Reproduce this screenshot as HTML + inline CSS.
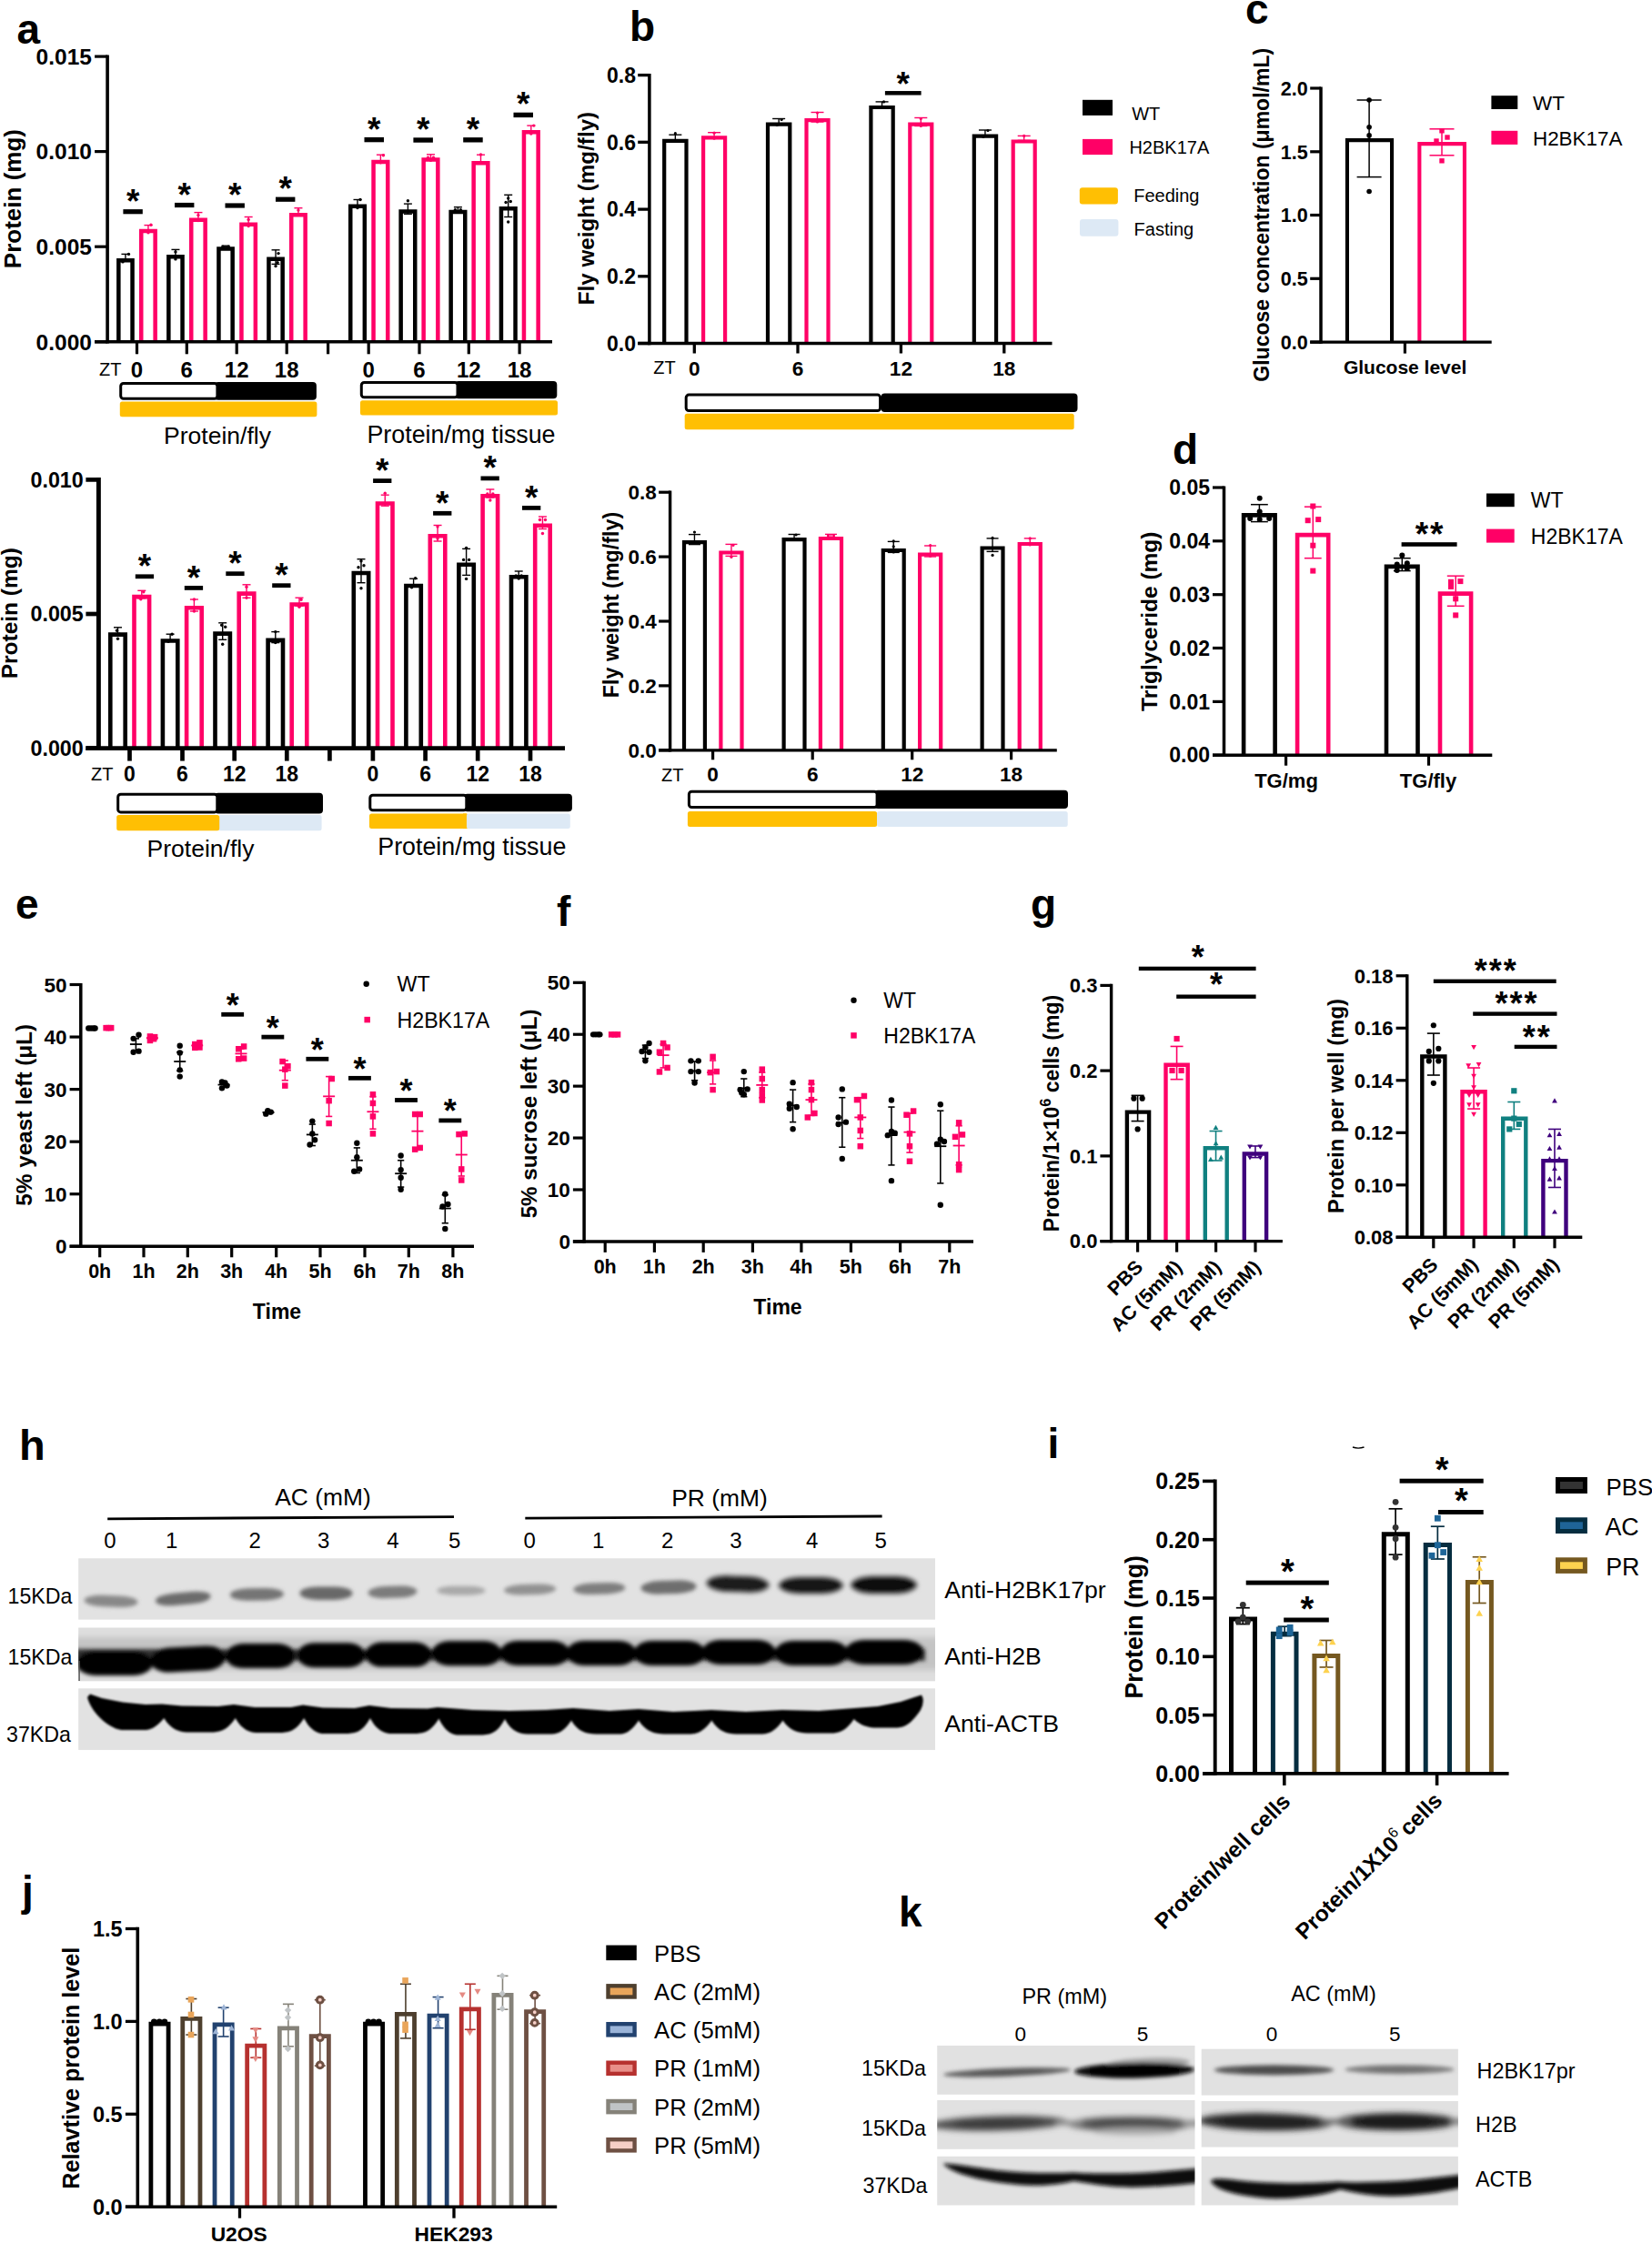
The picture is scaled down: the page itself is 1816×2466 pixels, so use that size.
<!DOCTYPE html>
<html><head><meta charset="utf-8"><title>Figure</title>
<style>html,body{margin:0;padding:0;background:#fff}svg{display:block}text{font-family:'Liberation Sans', sans-serif}</style>
</head><body>
<svg width="1816" height="2466" viewBox="0 0 1816 2466">
<defs>
<filter id="b1" x="-20%" y="-50%" width="140%" height="200%"><feGaussianBlur stdDeviation="1.2"/></filter>
<filter id="b2" x="-20%" y="-50%" width="140%" height="200%"><feGaussianBlur stdDeviation="2.2"/></filter>
<filter id="b3" x="-20%" y="-50%" width="140%" height="200%"><feGaussianBlur stdDeviation="3.2"/></filter>
</defs>
<rect width="1816" height="2466" fill="#fff"/>
<text x="18.5" y="48" font-size="46" font-weight="bold" text-anchor="start" fill="#000" >a</text>
<text x="100.9" y="70.87" font-size="24.5" font-weight="bold" text-anchor="end" fill="#000" >0.015</text>
<text x="100.9" y="175.37" font-size="24.5" font-weight="bold" text-anchor="end" fill="#000" >0.010</text>
<text x="100.9" y="279.97" font-size="24.5" font-weight="bold" text-anchor="end" fill="#000" >0.005</text>
<text x="100.9" y="384.57" font-size="24.5" font-weight="bold" text-anchor="end" fill="#000" >0.000</text>
<text x="23.4" y="218.6" font-size="26" font-weight="bold" text-anchor="middle" fill="#000" transform="rotate(-90 23.4 218.6)" >Protein (mg)</text>
<path d="M130.35,375.8 L130.35,286.15 L145.55,286.15 L145.55,375.8" fill="#fff" stroke="#000" stroke-width="4.5" stroke-linejoin="miter"/>
<line x1="137.95" y1="279.4" x2="137.95" y2="285.9" stroke="#000" stroke-width="1.4" stroke-linecap="butt"/>
<line x1="133.45" y1="279.4" x2="142.45" y2="279.4" stroke="#000" stroke-width="1.4" stroke-linecap="butt"/>
<line x1="133.45" y1="285.9" x2="142.45" y2="285.9" stroke="#000" stroke-width="1.4" stroke-linecap="butt"/>
<circle cx="141.45" cy="279.4" r="1.7" fill="#000"/>
<circle cx="134.95" cy="287.9" r="1.7" fill="#000"/>
<path d="M185.35,375.8 L185.35,282.15 L200.55,282.15 L200.55,375.8" fill="#fff" stroke="#000" stroke-width="4.5" stroke-linejoin="miter"/>
<line x1="192.95" y1="274.4" x2="192.95" y2="282.9" stroke="#000" stroke-width="1.4" stroke-linecap="butt"/>
<line x1="188.45" y1="274.4" x2="197.45" y2="274.4" stroke="#000" stroke-width="1.4" stroke-linecap="butt"/>
<line x1="188.45" y1="282.9" x2="197.45" y2="282.9" stroke="#000" stroke-width="1.4" stroke-linecap="butt"/>
<circle cx="192.95" cy="276.9" r="1.7" fill="#000"/>
<circle cx="192.95" cy="284.9" r="1.7" fill="#000"/>
<path d="M240.45,375.8 L240.45,273.45 L255.65,273.45 L255.65,375.8" fill="#fff" stroke="#000" stroke-width="4.5" stroke-linejoin="miter"/>
<line x1="248.05" y1="270.2" x2="248.05" y2="272.2" stroke="#000" stroke-width="1.4" stroke-linecap="butt"/>
<line x1="243.55" y1="270.2" x2="252.55" y2="270.2" stroke="#000" stroke-width="1.4" stroke-linecap="butt"/>
<line x1="243.55" y1="272.2" x2="252.55" y2="272.2" stroke="#000" stroke-width="1.4" stroke-linecap="butt"/>
<circle cx="245.05" cy="271.2" r="1.7" fill="#000"/>
<circle cx="251.05" cy="271.2" r="1.7" fill="#000"/>
<path d="M295.45,375.8 L295.45,284.85 L310.65,284.85 L310.65,375.8" fill="#fff" stroke="#000" stroke-width="4.5" stroke-linejoin="miter"/>
<line x1="303.05" y1="274.8" x2="303.05" y2="290.4" stroke="#000" stroke-width="1.4" stroke-linecap="butt"/>
<line x1="298.55" y1="274.8" x2="307.55" y2="274.8" stroke="#000" stroke-width="1.4" stroke-linecap="butt"/>
<line x1="298.55" y1="290.4" x2="307.55" y2="290.4" stroke="#000" stroke-width="1.4" stroke-linecap="butt"/>
<circle cx="306.05" cy="278.6" r="1.7" fill="#000"/>
<circle cx="300.05" cy="284.6" r="1.7" fill="#000"/>
<circle cx="305.05" cy="288.6" r="1.7" fill="#000"/>
<circle cx="303.05" cy="292.6" r="1.7" fill="#000"/>
<path d="M155.25,375.8 L155.25,254.05 L170.65,254.05 L170.65,375.8" fill="#fff" stroke="#FF0066" stroke-width="4.5" stroke-linejoin="miter"/>
<line x1="162.95" y1="247.6" x2="162.95" y2="254.8" stroke="#FF0066" stroke-width="1.4" stroke-linecap="butt"/>
<line x1="158.45" y1="247.6" x2="167.45" y2="247.6" stroke="#FF0066" stroke-width="1.4" stroke-linecap="butt"/>
<line x1="158.45" y1="254.8" x2="167.45" y2="254.8" stroke="#FF0066" stroke-width="1.4" stroke-linecap="butt"/>
<circle cx="165.95" cy="247.3" r="1.7" fill="#FF0066"/>
<circle cx="162.95" cy="255.8" r="1.7" fill="#FF0066"/>
<path d="M210.25,375.8 L210.25,241.85 L225.65,241.85 L225.65,375.8" fill="#fff" stroke="#FF0066" stroke-width="4.5" stroke-linejoin="miter"/>
<line x1="217.95" y1="233.6" x2="217.95" y2="242.6" stroke="#FF0066" stroke-width="1.4" stroke-linecap="butt"/>
<line x1="213.45" y1="233.6" x2="222.45" y2="233.6" stroke="#FF0066" stroke-width="1.4" stroke-linecap="butt"/>
<line x1="213.45" y1="242.6" x2="222.45" y2="242.6" stroke="#FF0066" stroke-width="1.4" stroke-linecap="butt"/>
<circle cx="217.95" cy="236.6" r="1.7" fill="#FF0066"/>
<circle cx="217.95" cy="242.6" r="1.7" fill="#FF0066"/>
<path d="M265.45,375.8 L265.45,246.75 L280.85,246.75 L280.85,375.8" fill="#fff" stroke="#FF0066" stroke-width="4.5" stroke-linejoin="miter"/>
<line x1="273.15" y1="238.5" x2="273.15" y2="247.5" stroke="#FF0066" stroke-width="1.4" stroke-linecap="butt"/>
<line x1="268.65" y1="238.5" x2="277.65" y2="238.5" stroke="#FF0066" stroke-width="1.4" stroke-linecap="butt"/>
<line x1="268.65" y1="247.5" x2="277.65" y2="247.5" stroke="#FF0066" stroke-width="1.4" stroke-linecap="butt"/>
<circle cx="273.15" cy="241.5" r="1.7" fill="#FF0066"/>
<circle cx="273.15" cy="248.5" r="1.7" fill="#FF0066"/>
<path d="M320.25,375.8 L320.25,236.35 L335.65,236.35 L335.65,375.8" fill="#fff" stroke="#FF0066" stroke-width="4.5" stroke-linejoin="miter"/>
<line x1="327.95" y1="228.7" x2="327.95" y2="237.1" stroke="#FF0066" stroke-width="1.4" stroke-linecap="butt"/>
<line x1="323.45" y1="228.7" x2="332.45" y2="228.7" stroke="#FF0066" stroke-width="1.4" stroke-linecap="butt"/>
<line x1="323.45" y1="237.1" x2="332.45" y2="237.1" stroke="#FF0066" stroke-width="1.4" stroke-linecap="butt"/>
<circle cx="327.95" cy="231.1" r="1.7" fill="#FF0066"/>
<rect x="135.4" y="230.1" width="21.4" height="5.2" fill="#000" />
<text x="146.1" y="233.81" font-size="37" font-weight="bold" text-anchor="middle" fill="#000" >*</text>
<rect x="192" y="222.9" width="21.4" height="5.2" fill="#000" />
<text x="202.7" y="226.61" font-size="37" font-weight="bold" text-anchor="middle" fill="#000" >*</text>
<rect x="247.5" y="223.4" width="21.4" height="5.2" fill="#000" />
<text x="258.2" y="227.11" font-size="37" font-weight="bold" text-anchor="middle" fill="#000" >*</text>
<rect x="303" y="216.6" width="21.4" height="5.2" fill="#000" />
<text x="313.7" y="220.31" font-size="37" font-weight="bold" text-anchor="middle" fill="#000" >*</text>
<path d="M385.25,375.8 L385.25,226.75 L400.85,226.75 L400.85,375.8" fill="#fff" stroke="#000" stroke-width="4.5" stroke-linejoin="miter"/>
<line x1="393" y1="219.5" x2="393" y2="226.5" stroke="#000" stroke-width="1.4" stroke-linecap="butt"/>
<line x1="388.5" y1="219.5" x2="397.5" y2="219.5" stroke="#000" stroke-width="1.4" stroke-linecap="butt"/>
<line x1="388.5" y1="226.5" x2="397.5" y2="226.5" stroke="#000" stroke-width="1.4" stroke-linecap="butt"/>
<circle cx="396" cy="219.5" r="1.7" fill="#000"/>
<circle cx="393" cy="228.5" r="1.7" fill="#000"/>
<path d="M440.65,375.8 L440.65,232.55 L456.25,232.55 L456.25,375.8" fill="#fff" stroke="#000" stroke-width="4.5" stroke-linejoin="miter"/>
<line x1="448.4" y1="224.1" x2="448.4" y2="235.3" stroke="#000" stroke-width="1.4" stroke-linecap="butt"/>
<line x1="443.9" y1="224.1" x2="452.9" y2="224.1" stroke="#000" stroke-width="1.4" stroke-linecap="butt"/>
<line x1="443.9" y1="235.3" x2="452.9" y2="235.3" stroke="#000" stroke-width="1.4" stroke-linecap="butt"/>
<circle cx="448.4" cy="220.8" r="1.7" fill="#000"/>
<path d="M495.65,375.8 L495.65,232.95 L511.25,232.95 L511.25,375.8" fill="#fff" stroke="#000" stroke-width="4.5" stroke-linejoin="miter"/>
<line x1="503.4" y1="227.7" x2="503.4" y2="231.7" stroke="#000" stroke-width="1.4" stroke-linecap="butt"/>
<line x1="498.9" y1="227.7" x2="507.9" y2="227.7" stroke="#000" stroke-width="1.4" stroke-linecap="butt"/>
<line x1="498.9" y1="231.7" x2="507.9" y2="231.7" stroke="#000" stroke-width="1.4" stroke-linecap="butt"/>
<circle cx="500.4" cy="230.7" r="1.7" fill="#000"/>
<circle cx="506.4" cy="230.7" r="1.7" fill="#000"/>
<path d="M550.95,375.8 L550.95,229.25 L566.55,229.25 L566.55,375.8" fill="#fff" stroke="#000" stroke-width="4.5" stroke-linejoin="miter"/>
<line x1="558.7" y1="214.3" x2="558.7" y2="238.5" stroke="#000" stroke-width="1.4" stroke-linecap="butt"/>
<line x1="554.2" y1="214.3" x2="563.2" y2="214.3" stroke="#000" stroke-width="1.4" stroke-linecap="butt"/>
<line x1="554.2" y1="238.5" x2="563.2" y2="238.5" stroke="#000" stroke-width="1.4" stroke-linecap="butt"/>
<circle cx="558.7" cy="218" r="1.7" fill="#000"/>
<circle cx="556.1" cy="222.5" r="1.7" fill="#000"/>
<circle cx="561.3" cy="221.5" r="1.7" fill="#000"/>
<circle cx="558.7" cy="244" r="1.7" fill="#000"/>
<path d="M410.55,375.8 L410.55,177.95 L426.25,177.95 L426.25,375.8" fill="#fff" stroke="#FF0066" stroke-width="4.5" stroke-linejoin="miter"/>
<line x1="418.4" y1="170.2" x2="418.4" y2="178.7" stroke="#FF0066" stroke-width="1.4" stroke-linecap="butt"/>
<line x1="413.9" y1="170.2" x2="422.9" y2="170.2" stroke="#FF0066" stroke-width="1.4" stroke-linecap="butt"/>
<line x1="413.9" y1="178.7" x2="422.9" y2="178.7" stroke="#FF0066" stroke-width="1.4" stroke-linecap="butt"/>
<circle cx="421.4" cy="170.7" r="1.7" fill="#FF0066"/>
<circle cx="418.4" cy="178.7" r="1.7" fill="#FF0066"/>
<path d="M465.65,375.8 L465.65,175.55 L481.35,175.55 L481.35,375.8" fill="#fff" stroke="#FF0066" stroke-width="4.5" stroke-linejoin="miter"/>
<line x1="473.5" y1="169.8" x2="473.5" y2="175.3" stroke="#FF0066" stroke-width="1.4" stroke-linecap="butt"/>
<line x1="469" y1="169.8" x2="478" y2="169.8" stroke="#FF0066" stroke-width="1.4" stroke-linecap="butt"/>
<line x1="469" y1="175.3" x2="478" y2="175.3" stroke="#FF0066" stroke-width="1.4" stroke-linecap="butt"/>
<circle cx="470.5" cy="173.3" r="1.7" fill="#FF0066"/>
<circle cx="476.5" cy="173.3" r="1.7" fill="#FF0066"/>
<circle cx="473.5" cy="176.3" r="1.7" fill="#FF0066"/>
<path d="M520.65,375.8 L520.65,179.25 L536.35,179.25 L536.35,375.8" fill="#fff" stroke="#FF0066" stroke-width="4.5" stroke-linejoin="miter"/>
<line x1="528.5" y1="170.2" x2="528.5" y2="179" stroke="#FF0066" stroke-width="1.4" stroke-linecap="butt"/>
<line x1="524" y1="170.2" x2="533" y2="170.2" stroke="#FF0066" stroke-width="1.4" stroke-linecap="butt"/>
<line x1="524" y1="179" x2="533" y2="179" stroke="#FF0066" stroke-width="1.4" stroke-linecap="butt"/>
<circle cx="528.5" cy="170" r="1.7" fill="#FF0066"/>
<path d="M575.95,375.8 L575.95,145.35 L591.65,145.35 L591.65,375.8" fill="#fff" stroke="#FF0066" stroke-width="4.5" stroke-linejoin="miter"/>
<line x1="583.8" y1="138.1" x2="583.8" y2="146.1" stroke="#FF0066" stroke-width="1.4" stroke-linecap="butt"/>
<line x1="579.3" y1="138.1" x2="588.3" y2="138.1" stroke="#FF0066" stroke-width="1.4" stroke-linecap="butt"/>
<line x1="579.3" y1="146.1" x2="588.3" y2="146.1" stroke="#FF0066" stroke-width="1.4" stroke-linecap="butt"/>
<circle cx="586.8" cy="138.1" r="1.7" fill="#FF0066"/>
<circle cx="583.8" cy="147.1" r="1.7" fill="#FF0066"/>
<rect x="400.5" y="150.9" width="21.5" height="5.4" fill="#000" />
<text x="411.25" y="154.61" font-size="37" font-weight="bold" text-anchor="middle" fill="#000" >*</text>
<rect x="454.4" y="151.3" width="21.5" height="5.4" fill="#000" />
<text x="465.15" y="155.01" font-size="37" font-weight="bold" text-anchor="middle" fill="#000" >*</text>
<rect x="509.2" y="151.1" width="21.5" height="5.4" fill="#000" />
<text x="519.95" y="154.81" font-size="37" font-weight="bold" text-anchor="middle" fill="#000" >*</text>
<rect x="564.5" y="123.7" width="21.5" height="5.4" fill="#000" />
<text x="575.25" y="127.41" font-size="37" font-weight="bold" text-anchor="middle" fill="#000" >*</text>
<text x="109" y="412.5" font-size="20" text-anchor="start" fill="#000" >ZT</text>
<text x="150.5" y="415" font-size="24" font-weight="bold" text-anchor="middle" fill="#000" >0</text>
<text x="205.3" y="415" font-size="24" font-weight="bold" text-anchor="middle" fill="#000" >6</text>
<text x="260.2" y="415" font-size="24" font-weight="bold" text-anchor="middle" fill="#000" >12</text>
<text x="315.2" y="415" font-size="24" font-weight="bold" text-anchor="middle" fill="#000" >18</text>
<text x="405.2" y="415" font-size="24" font-weight="bold" text-anchor="middle" fill="#000" >0</text>
<text x="461" y="415" font-size="24" font-weight="bold" text-anchor="middle" fill="#000" >6</text>
<text x="515.3" y="415" font-size="24" font-weight="bold" text-anchor="middle" fill="#000" >12</text>
<text x="571.1" y="415" font-size="24" font-weight="bold" text-anchor="middle" fill="#000" >18</text>
<rect x="235.9" y="420" width="112" height="19.7" fill="#000" rx="4" />
<rect x="132.7" y="421.5" width="106.2" height="16.7" fill="#fff" stroke="#000" stroke-width="3" rx="3" />
<rect x="131.8" y="441.5" width="216.6" height="16.7" fill="#FFBF03" rx="2.5" />
<rect x="500" y="418.9" width="112.3" height="19.3" fill="#000" rx="4" />
<rect x="397.3" y="420.4" width="105.7" height="16.3" fill="#fff" stroke="#000" stroke-width="3" rx="3" />
<rect x="396" y="440.2" width="217" height="16.4" fill="#FFBF03" rx="2.5" />
<text x="239" y="488.4" font-size="26.5" text-anchor="middle" fill="#000" >Protein/fly</text>
<text x="507" y="487" font-size="26.8" text-anchor="middle" fill="#000" >Protein/mg tissue</text>
<line x1="118.1" y1="60.5" x2="118.1" y2="377.6" stroke="#000" stroke-width="3.6"/>
<line x1="104.1" y1="62.1" x2="118.1" y2="62.1" stroke="#000" stroke-width="3.2"/>
<line x1="104.1" y1="166.6" x2="118.1" y2="166.6" stroke="#000" stroke-width="3.2"/>
<line x1="104.1" y1="271.2" x2="118.1" y2="271.2" stroke="#000" stroke-width="3.2"/>
<line x1="104.1" y1="375.8" x2="118.1" y2="375.8" stroke="#000" stroke-width="3.2"/>
<line x1="104.1" y1="375.8" x2="607" y2="375.8" stroke="#000" stroke-width="3.4"/>
<line x1="150.5" y1="375.8" x2="150.5" y2="389.3" stroke="#000" stroke-width="3.2"/>
<line x1="205.3" y1="375.8" x2="205.3" y2="389.3" stroke="#000" stroke-width="3.2"/>
<line x1="260.2" y1="375.8" x2="260.2" y2="389.3" stroke="#000" stroke-width="3.2"/>
<line x1="315.2" y1="375.8" x2="315.2" y2="389.3" stroke="#000" stroke-width="3.2"/>
<line x1="360.6" y1="375.8" x2="360.6" y2="389.3" stroke="#000" stroke-width="3.2"/>
<line x1="405.2" y1="375.8" x2="405.2" y2="389.3" stroke="#000" stroke-width="3.2"/>
<line x1="461" y1="375.8" x2="461" y2="389.3" stroke="#000" stroke-width="3.2"/>
<line x1="515.3" y1="375.8" x2="515.3" y2="389.3" stroke="#000" stroke-width="3.2"/>
<line x1="571.1" y1="375.8" x2="571.1" y2="389.3" stroke="#000" stroke-width="3.2"/>
<text x="91.8" y="535.74" font-size="23.3" font-weight="bold" text-anchor="end" fill="#000" >0.010</text>
<text x="91.8" y="683.34" font-size="23.3" font-weight="bold" text-anchor="end" fill="#000" >0.005</text>
<text x="91.8" y="830.94" font-size="23.3" font-weight="bold" text-anchor="end" fill="#000" >0.000</text>
<text x="18.9" y="674.2" font-size="24.5" font-weight="bold" text-anchor="middle" fill="#000" transform="rotate(-90 18.9 674.2)" >Protein (mg)</text>
<path d="M121.3,822.6 L121.3,697.6 L137.7,697.6 L137.7,822.6" fill="#fff" stroke="#000" stroke-width="4.6" stroke-linejoin="miter"/>
<line x1="129.5" y1="689.8" x2="129.5" y2="698.8" stroke="#000" stroke-width="1.4" stroke-linecap="butt"/>
<line x1="125" y1="689.8" x2="134" y2="689.8" stroke="#000" stroke-width="1.4" stroke-linecap="butt"/>
<line x1="125" y1="698.8" x2="134" y2="698.8" stroke="#000" stroke-width="1.4" stroke-linecap="butt"/>
<circle cx="128.5" cy="693.3" r="1.7" fill="#000"/>
<circle cx="131.5" cy="697.3" r="1.7" fill="#000"/>
<circle cx="129.5" cy="702.3" r="1.7" fill="#000"/>
<path d="M178.9,822.6 L178.9,704.5 L195.3,704.5 L195.3,822.6" fill="#fff" stroke="#000" stroke-width="4.6" stroke-linejoin="miter"/>
<line x1="187.1" y1="697.2" x2="187.1" y2="705.2" stroke="#000" stroke-width="1.4" stroke-linecap="butt"/>
<line x1="182.6" y1="697.2" x2="191.6" y2="697.2" stroke="#000" stroke-width="1.4" stroke-linecap="butt"/>
<line x1="182.6" y1="705.2" x2="191.6" y2="705.2" stroke="#000" stroke-width="1.4" stroke-linecap="butt"/>
<circle cx="189.1" cy="697.2" r="1.7" fill="#000"/>
<circle cx="185.1" cy="705.2" r="1.7" fill="#000"/>
<path d="M236.5,822.6 L236.5,696.6 L252.9,696.6 L252.9,822.6" fill="#fff" stroke="#000" stroke-width="4.6" stroke-linejoin="miter"/>
<line x1="244.7" y1="684.8" x2="244.7" y2="703.3" stroke="#000" stroke-width="1.4" stroke-linecap="butt"/>
<line x1="240.2" y1="684.8" x2="249.2" y2="684.8" stroke="#000" stroke-width="1.4" stroke-linecap="butt"/>
<line x1="240.2" y1="703.3" x2="249.2" y2="703.3" stroke="#000" stroke-width="1.4" stroke-linecap="butt"/>
<circle cx="243.7" cy="687.3" r="1.7" fill="#000"/>
<circle cx="247.7" cy="689.3" r="1.7" fill="#000"/>
<circle cx="244.7" cy="708.3" r="1.7" fill="#000"/>
<path d="M294.6,822.6 L294.6,703.9 L311,703.9 L311,822.6" fill="#fff" stroke="#000" stroke-width="4.6" stroke-linejoin="miter"/>
<line x1="302.8" y1="694.6" x2="302.8" y2="706.6" stroke="#000" stroke-width="1.4" stroke-linecap="butt"/>
<line x1="298.3" y1="694.6" x2="307.3" y2="694.6" stroke="#000" stroke-width="1.4" stroke-linecap="butt"/>
<line x1="298.3" y1="706.6" x2="307.3" y2="706.6" stroke="#000" stroke-width="1.4" stroke-linecap="butt"/>
<circle cx="302.8" cy="694.6" r="1.7" fill="#000"/>
<circle cx="302.8" cy="706.6" r="1.7" fill="#000"/>
<path d="M147.5,822.6 L147.5,656.1 L164.1,656.1 L164.1,822.6" fill="#fff" stroke="#FF0066" stroke-width="4.6" stroke-linejoin="miter"/>
<line x1="155.8" y1="649.3" x2="155.8" y2="657.8" stroke="#FF0066" stroke-width="1.4" stroke-linecap="butt"/>
<line x1="151.3" y1="649.3" x2="160.3" y2="649.3" stroke="#FF0066" stroke-width="1.4" stroke-linecap="butt"/>
<line x1="151.3" y1="657.8" x2="160.3" y2="657.8" stroke="#FF0066" stroke-width="1.4" stroke-linecap="butt"/>
<circle cx="157.8" cy="650.8" r="1.7" fill="#FF0066"/>
<circle cx="154.8" cy="658.8" r="1.7" fill="#FF0066"/>
<path d="M205.1,822.6 L205.1,668.3 L221.7,668.3 L221.7,822.6" fill="#fff" stroke="#FF0066" stroke-width="4.6" stroke-linejoin="miter"/>
<line x1="213.4" y1="659" x2="213.4" y2="672" stroke="#FF0066" stroke-width="1.4" stroke-linecap="butt"/>
<line x1="208.9" y1="659" x2="217.9" y2="659" stroke="#FF0066" stroke-width="1.4" stroke-linecap="butt"/>
<line x1="208.9" y1="672" x2="217.9" y2="672" stroke="#FF0066" stroke-width="1.4" stroke-linecap="butt"/>
<circle cx="213.4" cy="659" r="1.7" fill="#FF0066"/>
<circle cx="213.4" cy="672" r="1.7" fill="#FF0066"/>
<path d="M262.7,822.6 L262.7,652.6 L279.3,652.6 L279.3,822.6" fill="#fff" stroke="#FF0066" stroke-width="4.6" stroke-linejoin="miter"/>
<line x1="271" y1="642.8" x2="271" y2="657.3" stroke="#FF0066" stroke-width="1.4" stroke-linecap="butt"/>
<line x1="266.5" y1="642.8" x2="275.5" y2="642.8" stroke="#FF0066" stroke-width="1.4" stroke-linecap="butt"/>
<line x1="266.5" y1="657.3" x2="275.5" y2="657.3" stroke="#FF0066" stroke-width="1.4" stroke-linecap="butt"/>
<circle cx="271" cy="645.3" r="1.7" fill="#FF0066"/>
<circle cx="271" cy="657.3" r="1.7" fill="#FF0066"/>
<path d="M320.7,822.6 L320.7,664.5 L337.3,664.5 L337.3,822.6" fill="#fff" stroke="#FF0066" stroke-width="4.6" stroke-linejoin="miter"/>
<line x1="329" y1="657.2" x2="329" y2="666.2" stroke="#FF0066" stroke-width="1.4" stroke-linecap="butt"/>
<line x1="324.5" y1="657.2" x2="333.5" y2="657.2" stroke="#FF0066" stroke-width="1.4" stroke-linecap="butt"/>
<line x1="324.5" y1="666.2" x2="333.5" y2="666.2" stroke="#FF0066" stroke-width="1.4" stroke-linecap="butt"/>
<circle cx="331" cy="659.2" r="1.7" fill="#FF0066"/>
<circle cx="329" cy="667.2" r="1.7" fill="#FF0066"/>
<rect x="148.8" y="631.4" width="20.3" height="4.8" fill="#000" />
<text x="158.95" y="635.11" font-size="37" font-weight="bold" text-anchor="middle" fill="#000" >*</text>
<rect x="202.8" y="644" width="20.3" height="4.8" fill="#000" />
<text x="212.95" y="647.71" font-size="37" font-weight="bold" text-anchor="middle" fill="#000" >*</text>
<rect x="248.3" y="628.3" width="20.3" height="4.8" fill="#000" />
<text x="258.45" y="632.01" font-size="37" font-weight="bold" text-anchor="middle" fill="#000" >*</text>
<rect x="299.2" y="641.3" width="20.3" height="4.8" fill="#000" />
<text x="309.35" y="645.01" font-size="37" font-weight="bold" text-anchor="middle" fill="#000" >*</text>
<path d="M388.8,822.6 L388.8,630 L405.2,630 L405.2,822.6" fill="#fff" stroke="#000" stroke-width="4.6" stroke-linejoin="miter"/>
<line x1="397" y1="614.7" x2="397" y2="640.7" stroke="#000" stroke-width="1.4" stroke-linecap="butt"/>
<line x1="392.5" y1="614.7" x2="401.5" y2="614.7" stroke="#000" stroke-width="1.4" stroke-linecap="butt"/>
<line x1="392.5" y1="640.7" x2="401.5" y2="640.7" stroke="#000" stroke-width="1.4" stroke-linecap="butt"/>
<circle cx="397" cy="616.7" r="1.7" fill="#000"/>
<circle cx="400" cy="621.7" r="1.7" fill="#000"/>
<circle cx="394" cy="623.7" r="1.7" fill="#000"/>
<circle cx="397" cy="646.7" r="1.7" fill="#000"/>
<path d="M446.4,822.6 L446.4,644 L462.8,644 L462.8,822.6" fill="#fff" stroke="#000" stroke-width="4.6" stroke-linejoin="miter"/>
<line x1="454.6" y1="636.2" x2="454.6" y2="644.7" stroke="#000" stroke-width="1.4" stroke-linecap="butt"/>
<line x1="450.1" y1="636.2" x2="459.1" y2="636.2" stroke="#000" stroke-width="1.4" stroke-linecap="butt"/>
<line x1="450.1" y1="644.7" x2="459.1" y2="644.7" stroke="#000" stroke-width="1.4" stroke-linecap="butt"/>
<circle cx="456.6" cy="635.7" r="1.7" fill="#000"/>
<circle cx="452.6" cy="645.7" r="1.7" fill="#000"/>
<path d="M504.4,822.6 L504.4,620.7 L520.8,620.7 L520.8,822.6" fill="#fff" stroke="#000" stroke-width="4.6" stroke-linejoin="miter"/>
<line x1="512.6" y1="603.4" x2="512.6" y2="632.4" stroke="#000" stroke-width="1.4" stroke-linecap="butt"/>
<line x1="508.1" y1="603.4" x2="517.1" y2="603.4" stroke="#000" stroke-width="1.4" stroke-linecap="butt"/>
<line x1="508.1" y1="632.4" x2="517.1" y2="632.4" stroke="#000" stroke-width="1.4" stroke-linecap="butt"/>
<circle cx="512.6" cy="602.4" r="1.7" fill="#000"/>
<circle cx="509.6" cy="615.4" r="1.7" fill="#000"/>
<circle cx="515.6" cy="615.4" r="1.7" fill="#000"/>
<circle cx="512.6" cy="636.4" r="1.7" fill="#000"/>
<path d="M562,822.6 L562,634.3 L578.4,634.3 L578.4,822.6" fill="#fff" stroke="#000" stroke-width="4.6" stroke-linejoin="miter"/>
<line x1="570.2" y1="628" x2="570.2" y2="634" stroke="#000" stroke-width="1.4" stroke-linecap="butt"/>
<line x1="565.7" y1="628" x2="574.7" y2="628" stroke="#000" stroke-width="1.4" stroke-linecap="butt"/>
<line x1="565.7" y1="634" x2="574.7" y2="634" stroke="#000" stroke-width="1.4" stroke-linecap="butt"/>
<circle cx="567.2" cy="633" r="1.7" fill="#000"/>
<circle cx="573.2" cy="633" r="1.7" fill="#000"/>
<circle cx="570.2" cy="636" r="1.7" fill="#000"/>
<path d="M415,822.6 L415,553.5 L431.5,553.5 L431.5,822.6" fill="#fff" stroke="#FF0066" stroke-width="4.6" stroke-linejoin="miter"/>
<line x1="423.25" y1="544.2" x2="423.25" y2="556.2" stroke="#FF0066" stroke-width="1.4" stroke-linecap="butt"/>
<line x1="418.75" y1="544.2" x2="427.75" y2="544.2" stroke="#FF0066" stroke-width="1.4" stroke-linecap="butt"/>
<line x1="418.75" y1="556.2" x2="427.75" y2="556.2" stroke="#FF0066" stroke-width="1.4" stroke-linecap="butt"/>
<circle cx="423.25" cy="542.2" r="1.7" fill="#FF0066"/>
<path d="M472.8,822.6 L472.8,589.3 L489.3,589.3 L489.3,822.6" fill="#fff" stroke="#FF0066" stroke-width="4.6" stroke-linejoin="miter"/>
<line x1="481.05" y1="577.5" x2="481.05" y2="595" stroke="#FF0066" stroke-width="1.4" stroke-linecap="butt"/>
<line x1="476.55" y1="577.5" x2="485.55" y2="577.5" stroke="#FF0066" stroke-width="1.4" stroke-linecap="butt"/>
<line x1="476.55" y1="595" x2="485.55" y2="595" stroke="#FF0066" stroke-width="1.4" stroke-linecap="butt"/>
<circle cx="481.05" cy="579" r="1.7" fill="#FF0066"/>
<circle cx="481.05" cy="592" r="1.7" fill="#FF0066"/>
<path d="M530.6,822.6 L530.6,545.3 L547.1,545.3 L547.1,822.6" fill="#fff" stroke="#FF0066" stroke-width="4.6" stroke-linejoin="miter"/>
<line x1="538.85" y1="538" x2="538.85" y2="547" stroke="#FF0066" stroke-width="1.4" stroke-linecap="butt"/>
<line x1="534.35" y1="538" x2="543.35" y2="538" stroke="#FF0066" stroke-width="1.4" stroke-linecap="butt"/>
<line x1="534.35" y1="547" x2="543.35" y2="547" stroke="#FF0066" stroke-width="1.4" stroke-linecap="butt"/>
<circle cx="535.85" cy="543" r="1.7" fill="#FF0066"/>
<circle cx="541.85" cy="543" r="1.7" fill="#FF0066"/>
<circle cx="538.85" cy="550" r="1.7" fill="#FF0066"/>
<path d="M588.2,822.6 L588.2,577.8 L604.7,577.8 L604.7,822.6" fill="#fff" stroke="#FF0066" stroke-width="4.6" stroke-linejoin="miter"/>
<line x1="596.45" y1="568" x2="596.45" y2="581.5" stroke="#FF0066" stroke-width="1.4" stroke-linecap="butt"/>
<line x1="591.95" y1="568" x2="600.95" y2="568" stroke="#FF0066" stroke-width="1.4" stroke-linecap="butt"/>
<line x1="591.95" y1="581.5" x2="600.95" y2="581.5" stroke="#FF0066" stroke-width="1.4" stroke-linecap="butt"/>
<circle cx="593.45" cy="571.5" r="1.7" fill="#FF0066"/>
<circle cx="599.45" cy="571.5" r="1.7" fill="#FF0066"/>
<circle cx="596.45" cy="586.5" r="1.7" fill="#FF0066"/>
<rect x="410.1" y="526.2" width="20.3" height="4.8" fill="#000" />
<text x="420.25" y="529.91" font-size="37" font-weight="bold" text-anchor="middle" fill="#000" >*</text>
<rect x="476.1" y="561.9" width="20.3" height="4.8" fill="#000" />
<text x="486.25" y="565.61" font-size="37" font-weight="bold" text-anchor="middle" fill="#000" >*</text>
<rect x="528.5" y="523.5" width="20.3" height="4.8" fill="#000" />
<text x="538.65" y="527.21" font-size="37" font-weight="bold" text-anchor="middle" fill="#000" >*</text>
<rect x="574" y="556" width="20.3" height="4.8" fill="#000" />
<text x="584.15" y="559.71" font-size="37" font-weight="bold" text-anchor="middle" fill="#000" >*</text>
<text x="100" y="857.7" font-size="20" text-anchor="start" fill="#000" >ZT</text>
<text x="142.5" y="859" font-size="23" font-weight="bold" text-anchor="middle" fill="#000" >0</text>
<text x="200.5" y="859" font-size="23" font-weight="bold" text-anchor="middle" fill="#000" >6</text>
<text x="257.7" y="859" font-size="23" font-weight="bold" text-anchor="middle" fill="#000" >12</text>
<text x="315.3" y="859" font-size="23" font-weight="bold" text-anchor="middle" fill="#000" >18</text>
<text x="409.9" y="859" font-size="23" font-weight="bold" text-anchor="middle" fill="#000" >0</text>
<text x="467.6" y="859" font-size="23" font-weight="bold" text-anchor="middle" fill="#000" >6</text>
<text x="525.2" y="859" font-size="23" font-weight="bold" text-anchor="middle" fill="#000" >12</text>
<text x="583" y="859" font-size="23" font-weight="bold" text-anchor="middle" fill="#000" >18</text>
<rect x="235.8" y="871.7" width="119.2" height="22.7" fill="#000" rx="4" />
<rect x="129.7" y="873.2" width="109.1" height="19.7" fill="#fff" stroke="#000" stroke-width="3" rx="3" />
<rect x="239.9" y="896" width="113.7" height="17.2" fill="#DDE9F5" rx="2.5" />
<rect x="128.2" y="896" width="113" height="17.2" fill="#FFBF03" rx="2.5" />
<rect x="509.8" y="872.8" width="119.1" height="19.5" fill="#000" rx="4" />
<rect x="406.8" y="874.3" width="106" height="16.5" fill="#fff" stroke="#000" stroke-width="3" rx="3" />
<rect x="406" y="894.4" width="109" height="16.7" fill="#FFBF03" rx="2.5" />
<rect x="512.8" y="894.4" width="114" height="16.7" fill="#DDE9F5" rx="2.5" />
<rect x="509" y="894.4" width="3.8" height="16.7" fill="#FFBF03" />
<text x="220.5" y="941.5" font-size="26.5" text-anchor="middle" fill="#000" >Protein/fly</text>
<text x="518.8" y="940.4" font-size="26.8" text-anchor="middle" fill="#000" >Protein/mg tissue</text>
<text x="692" y="45" font-size="46" font-weight="bold" text-anchor="start" fill="#000" >b</text>
<line x1="108.4" y1="525.05" x2="108.4" y2="825.05" stroke="#000" stroke-width="4.9"/>
<line x1="94.4" y1="527.4" x2="108.4" y2="527.4" stroke="#000" stroke-width="4.7"/>
<line x1="94.4" y1="675" x2="108.4" y2="675" stroke="#000" stroke-width="4.7"/>
<line x1="94.4" y1="822.6" x2="108.4" y2="822.6" stroke="#000" stroke-width="4.7"/>
<line x1="94.4" y1="822.6" x2="621" y2="822.6" stroke="#000" stroke-width="4.9"/>
<line x1="142.5" y1="822.6" x2="142.5" y2="836.6" stroke="#000" stroke-width="4.7"/>
<line x1="200.5" y1="822.6" x2="200.5" y2="836.6" stroke="#000" stroke-width="4.7"/>
<line x1="257.7" y1="822.6" x2="257.7" y2="836.6" stroke="#000" stroke-width="4.7"/>
<line x1="315.3" y1="822.6" x2="315.3" y2="836.6" stroke="#000" stroke-width="4.7"/>
<line x1="362.4" y1="822.6" x2="362.4" y2="836.6" stroke="#000" stroke-width="4.7"/>
<line x1="409.9" y1="822.6" x2="409.9" y2="836.6" stroke="#000" stroke-width="4.7"/>
<line x1="467.6" y1="822.6" x2="467.6" y2="836.6" stroke="#000" stroke-width="4.7"/>
<line x1="525.2" y1="822.6" x2="525.2" y2="836.6" stroke="#000" stroke-width="4.7"/>
<line x1="583" y1="822.6" x2="583" y2="836.6" stroke="#000" stroke-width="4.7"/>
<text x="699" y="90.83" font-size="23" font-weight="bold" text-anchor="end" fill="#000" >0.8</text>
<text x="699" y="164.53" font-size="23" font-weight="bold" text-anchor="end" fill="#000" >0.6</text>
<text x="699" y="238.33" font-size="23" font-weight="bold" text-anchor="end" fill="#000" >0.4</text>
<text x="699" y="312.03" font-size="23" font-weight="bold" text-anchor="end" fill="#000" >0.2</text>
<text x="699" y="385.73" font-size="23" font-weight="bold" text-anchor="end" fill="#000" >0.0</text>
<text x="652.6" y="229" font-size="24.2" font-weight="bold" text-anchor="middle" fill="#000" transform="rotate(-90 652.6 229)" >Fly weight (mg/fly)</text>
<path d="M730.2,377.5 L730.2,154.8 L754.5,154.8 L754.5,377.5" fill="#fff" stroke="#000" stroke-width="4.2" stroke-linejoin="miter"/>
<line x1="742.35" y1="148.2" x2="742.35" y2="153.7" stroke="#000" stroke-width="1.4" stroke-linecap="butt"/>
<line x1="735.35" y1="148.2" x2="749.35" y2="148.2" stroke="#000" stroke-width="1.4" stroke-linecap="butt"/>
<line x1="735.35" y1="153.7" x2="749.35" y2="153.7" stroke="#000" stroke-width="1.4" stroke-linecap="butt"/>
<circle cx="742.35" cy="146.7" r="1.6" fill="#000"/>
<path d="M844,377.5 L844,136.6 L868.3,136.6 L868.3,377.5" fill="#fff" stroke="#000" stroke-width="4.2" stroke-linejoin="miter"/>
<line x1="856.15" y1="130.5" x2="856.15" y2="136.5" stroke="#000" stroke-width="1.4" stroke-linecap="butt"/>
<line x1="849.15" y1="130.5" x2="863.15" y2="130.5" stroke="#000" stroke-width="1.4" stroke-linecap="butt"/>
<line x1="849.15" y1="136.5" x2="863.15" y2="136.5" stroke="#000" stroke-width="1.4" stroke-linecap="butt"/>
<circle cx="859.15" cy="131.5" r="1.6" fill="#000"/>
<circle cx="854.15" cy="137.5" r="1.6" fill="#000"/>
<path d="M957.4,377.5 L957.4,118 L981.7,118 L981.7,377.5" fill="#fff" stroke="#000" stroke-width="4.2" stroke-linejoin="miter"/>
<line x1="969.55" y1="111.9" x2="969.55" y2="117.9" stroke="#000" stroke-width="1.4" stroke-linecap="butt"/>
<line x1="962.55" y1="111.9" x2="976.55" y2="111.9" stroke="#000" stroke-width="1.4" stroke-linecap="butt"/>
<line x1="962.55" y1="117.9" x2="976.55" y2="117.9" stroke="#000" stroke-width="1.4" stroke-linecap="butt"/>
<circle cx="971.55" cy="111.9" r="1.6" fill="#000"/>
<circle cx="967.55" cy="117.9" r="1.6" fill="#000"/>
<path d="M1070.8,377.5 L1070.8,149.6 L1095.1,149.6 L1095.1,377.5" fill="#fff" stroke="#000" stroke-width="4.2" stroke-linejoin="miter"/>
<line x1="1082.95" y1="143" x2="1082.95" y2="149.5" stroke="#000" stroke-width="1.4" stroke-linecap="butt"/>
<line x1="1075.95" y1="143" x2="1089.95" y2="143" stroke="#000" stroke-width="1.4" stroke-linecap="butt"/>
<line x1="1075.95" y1="149.5" x2="1089.95" y2="149.5" stroke="#000" stroke-width="1.4" stroke-linecap="butt"/>
<circle cx="1085.95" cy="143.5" r="1.6" fill="#000"/>
<circle cx="1080.95" cy="150.5" r="1.6" fill="#000"/>
<path d="M773.1,377.5 L773.1,151.3 L797.1,151.3 L797.1,377.5" fill="#fff" stroke="#FF0066" stroke-width="4.2" stroke-linejoin="miter"/>
<line x1="785.1" y1="145.7" x2="785.1" y2="152.2" stroke="#FF0066" stroke-width="1.4" stroke-linecap="butt"/>
<line x1="778.1" y1="145.7" x2="792.1" y2="145.7" stroke="#FF0066" stroke-width="1.4" stroke-linecap="butt"/>
<line x1="778.1" y1="152.2" x2="792.1" y2="152.2" stroke="#FF0066" stroke-width="1.4" stroke-linecap="butt"/>
<circle cx="785.1" cy="146.2" r="1.6" fill="#FF0066"/>
<circle cx="785.1" cy="152.2" r="1.6" fill="#FF0066"/>
<path d="M886.5,377.5 L886.5,132.1 L910.5,132.1 L910.5,377.5" fill="#fff" stroke="#FF0066" stroke-width="4.2" stroke-linejoin="miter"/>
<line x1="898.5" y1="123.5" x2="898.5" y2="134" stroke="#FF0066" stroke-width="1.4" stroke-linecap="butt"/>
<line x1="891.5" y1="123.5" x2="905.5" y2="123.5" stroke="#FF0066" stroke-width="1.4" stroke-linecap="butt"/>
<line x1="891.5" y1="134" x2="905.5" y2="134" stroke="#FF0066" stroke-width="1.4" stroke-linecap="butt"/>
<circle cx="898.5" cy="124" r="1.6" fill="#FF0066"/>
<circle cx="898.5" cy="134" r="1.6" fill="#FF0066"/>
<path d="M1000.3,377.5 L1000.3,136.6 L1024.3,136.6 L1024.3,377.5" fill="#fff" stroke="#FF0066" stroke-width="4.2" stroke-linejoin="miter"/>
<line x1="1012.3" y1="129.5" x2="1012.3" y2="138.5" stroke="#FF0066" stroke-width="1.4" stroke-linecap="butt"/>
<line x1="1005.3" y1="129.5" x2="1019.3" y2="129.5" stroke="#FF0066" stroke-width="1.4" stroke-linecap="butt"/>
<line x1="1005.3" y1="138.5" x2="1019.3" y2="138.5" stroke="#FF0066" stroke-width="1.4" stroke-linecap="butt"/>
<circle cx="1012.3" cy="130.5" r="1.6" fill="#FF0066"/>
<circle cx="1012.3" cy="138.5" r="1.6" fill="#FF0066"/>
<path d="M1113.7,377.5 L1113.7,155.5 L1137.7,155.5 L1137.7,377.5" fill="#fff" stroke="#FF0066" stroke-width="4.2" stroke-linejoin="miter"/>
<line x1="1125.7" y1="149.4" x2="1125.7" y2="154.4" stroke="#FF0066" stroke-width="1.4" stroke-linecap="butt"/>
<line x1="1118.7" y1="149.4" x2="1132.7" y2="149.4" stroke="#FF0066" stroke-width="1.4" stroke-linecap="butt"/>
<line x1="1118.7" y1="154.4" x2="1132.7" y2="154.4" stroke="#FF0066" stroke-width="1.4" stroke-linecap="butt"/>
<circle cx="1125.7" cy="149.4" r="1.6" fill="#FF0066"/>
<rect x="972.9" y="100.05" width="39.7" height="4.5" fill="#000" />
<text x="992.75" y="104.76" font-size="37" font-weight="bold" text-anchor="middle" fill="#000" >*</text>
<text x="718.3" y="410.8" font-size="20" text-anchor="start" fill="#000" >ZT</text>
<text x="763.3" y="412.6" font-size="22.6" font-weight="bold" text-anchor="middle" fill="#000" >0</text>
<text x="877" y="412.6" font-size="22.6" font-weight="bold" text-anchor="middle" fill="#000" >6</text>
<text x="990.4" y="412.6" font-size="22.6" font-weight="bold" text-anchor="middle" fill="#000" >12</text>
<text x="1103.8" y="412.6" font-size="22.6" font-weight="bold" text-anchor="middle" fill="#000" >18</text>
<rect x="754.2" y="434.1" width="213.4" height="17.4" fill="#fff" stroke="#000" stroke-width="3" rx="3" />
<rect x="968.5" y="432.6" width="216" height="20.4" fill="#000" rx="4" />
<rect x="752.7" y="454.7" width="428" height="17.6" fill="#FFBF03" rx="2.5" />
<rect x="1190" y="109.8" width="33" height="17.1" fill="#000" />
<text x="1244.2" y="132.2" font-size="20" text-anchor="start" fill="#000" >WT</text>
<rect x="1190" y="152.9" width="33" height="17.2" fill="#FF0066" />
<text x="1241.4" y="168.8" font-size="20" text-anchor="start" fill="#000" >H2BK17A</text>
<rect x="1186.8" y="206.2" width="42.1" height="18.4" fill="#FFBF03" rx="3" />
<text x="1246.2" y="222.4" font-size="20" text-anchor="start" fill="#000" >Feeding</text>
<rect x="1187" y="241.1" width="42.4" height="18.6" fill="#DDE9F5" rx="3" />
<text x="1246.6" y="259" font-size="20" text-anchor="start" fill="#000" >Fasting</text>
<line x1="713.9" y1="80.95" x2="713.9" y2="379.25" stroke="#000" stroke-width="3.5"/>
<line x1="701.2" y1="82.6" x2="713.9" y2="82.6" stroke="#000" stroke-width="3.3"/>
<line x1="701.2" y1="156.3" x2="713.9" y2="156.3" stroke="#000" stroke-width="3.3"/>
<line x1="701.2" y1="230.1" x2="713.9" y2="230.1" stroke="#000" stroke-width="3.3"/>
<line x1="701.2" y1="303.8" x2="713.9" y2="303.8" stroke="#000" stroke-width="3.3"/>
<line x1="701.2" y1="377.5" x2="713.9" y2="377.5" stroke="#000" stroke-width="3.3"/>
<line x1="701.2" y1="377.5" x2="1156.5" y2="377.5" stroke="#000" stroke-width="3.4"/>
<line x1="763.3" y1="377.5" x2="763.3" y2="388.5" stroke="#000" stroke-width="3.3"/>
<line x1="877" y1="377.5" x2="877" y2="388.5" stroke="#000" stroke-width="3.3"/>
<line x1="990.4" y1="377.5" x2="990.4" y2="388.5" stroke="#000" stroke-width="3.3"/>
<line x1="1103.8" y1="377.5" x2="1103.8" y2="388.5" stroke="#000" stroke-width="3.3"/>
<text x="721.9" y="549.25" font-size="22.5" font-weight="bold" text-anchor="end" fill="#000" >0.8</text>
<text x="721.9" y="620.15" font-size="22.5" font-weight="bold" text-anchor="end" fill="#000" >0.6</text>
<text x="721.9" y="691.05" font-size="22.5" font-weight="bold" text-anchor="end" fill="#000" >0.4</text>
<text x="721.9" y="761.95" font-size="22.5" font-weight="bold" text-anchor="end" fill="#000" >0.2</text>
<text x="721.9" y="832.85" font-size="22.5" font-weight="bold" text-anchor="end" fill="#000" >0.0</text>
<text x="679.5" y="665" font-size="23.3" font-weight="bold" text-anchor="middle" fill="#000" transform="rotate(-90 679.5 665)" >Fly weight (mg/fly)</text>
<path d="M752,824.8 L752,596.2 L774.9,596.2 L774.9,824.8" fill="#fff" stroke="#000" stroke-width="4.2" stroke-linejoin="miter"/>
<line x1="763.45" y1="587.6" x2="763.45" y2="598.6" stroke="#000" stroke-width="1.4" stroke-linecap="butt"/>
<line x1="756.95" y1="587.6" x2="769.95" y2="587.6" stroke="#000" stroke-width="1.4" stroke-linecap="butt"/>
<line x1="756.95" y1="598.6" x2="769.95" y2="598.6" stroke="#000" stroke-width="1.4" stroke-linecap="butt"/>
<circle cx="763.45" cy="585.1" r="1.6" fill="#000"/>
<path d="M861.6,824.8 L861.6,593.1 L884.5,593.1 L884.5,824.8" fill="#fff" stroke="#000" stroke-width="4.2" stroke-linejoin="miter"/>
<line x1="873.05" y1="587.5" x2="873.05" y2="592" stroke="#000" stroke-width="1.4" stroke-linecap="butt"/>
<line x1="866.55" y1="587.5" x2="879.55" y2="587.5" stroke="#000" stroke-width="1.4" stroke-linecap="butt"/>
<line x1="866.55" y1="592" x2="879.55" y2="592" stroke="#000" stroke-width="1.4" stroke-linecap="butt"/>
<circle cx="875.05" cy="588" r="1.6" fill="#000"/>
<path d="M970.8,824.8 L970.8,605 L993.7,605 L993.7,824.8" fill="#fff" stroke="#000" stroke-width="4.2" stroke-linejoin="miter"/>
<line x1="982.25" y1="595.4" x2="982.25" y2="607.4" stroke="#000" stroke-width="1.4" stroke-linecap="butt"/>
<line x1="975.75" y1="595.4" x2="988.75" y2="595.4" stroke="#000" stroke-width="1.4" stroke-linecap="butt"/>
<line x1="975.75" y1="607.4" x2="988.75" y2="607.4" stroke="#000" stroke-width="1.4" stroke-linecap="butt"/>
<circle cx="982.25" cy="594.9" r="1.6" fill="#000"/>
<circle cx="982.25" cy="600.9" r="1.6" fill="#000"/>
<circle cx="982.25" cy="606.9" r="1.6" fill="#000"/>
<path d="M1079.6,824.8 L1079.6,602.5 L1102.5,602.5 L1102.5,824.8" fill="#fff" stroke="#000" stroke-width="4.2" stroke-linejoin="miter"/>
<line x1="1091.05" y1="591.9" x2="1091.05" y2="606.4" stroke="#000" stroke-width="1.4" stroke-linecap="butt"/>
<line x1="1084.55" y1="591.9" x2="1097.55" y2="591.9" stroke="#000" stroke-width="1.4" stroke-linecap="butt"/>
<line x1="1084.55" y1="606.4" x2="1097.55" y2="606.4" stroke="#000" stroke-width="1.4" stroke-linecap="butt"/>
<circle cx="1091.05" cy="591.4" r="1.6" fill="#000"/>
<circle cx="1091.05" cy="602.4" r="1.6" fill="#000"/>
<circle cx="1091.05" cy="610.4" r="1.6" fill="#000"/>
<path d="M792.4,824.8 L792.4,607.5 L815.5,607.5 L815.5,824.8" fill="#fff" stroke="#FF0066" stroke-width="4.2" stroke-linejoin="miter"/>
<line x1="803.95" y1="598.4" x2="803.95" y2="611.4" stroke="#FF0066" stroke-width="1.4" stroke-linecap="butt"/>
<line x1="797.45" y1="598.4" x2="810.45" y2="598.4" stroke="#FF0066" stroke-width="1.4" stroke-linecap="butt"/>
<line x1="797.45" y1="611.4" x2="810.45" y2="611.4" stroke="#FF0066" stroke-width="1.4" stroke-linecap="butt"/>
<circle cx="805.95" cy="599.4" r="1.6" fill="#FF0066"/>
<circle cx="803.95" cy="612.4" r="1.6" fill="#FF0066"/>
<path d="M901.9,824.8 L901.9,592 L925,592 L925,824.8" fill="#fff" stroke="#FF0066" stroke-width="4.2" stroke-linejoin="miter"/>
<line x1="913.45" y1="587.4" x2="913.45" y2="590.9" stroke="#FF0066" stroke-width="1.4" stroke-linecap="butt"/>
<line x1="906.95" y1="587.4" x2="919.95" y2="587.4" stroke="#FF0066" stroke-width="1.4" stroke-linecap="butt"/>
<line x1="906.95" y1="590.9" x2="919.95" y2="590.9" stroke="#FF0066" stroke-width="1.4" stroke-linecap="butt"/>
<circle cx="910.45" cy="588.9" r="1.6" fill="#FF0066"/>
<circle cx="916.45" cy="588.9" r="1.6" fill="#FF0066"/>
<path d="M1011.1,824.8 L1011.1,609.6 L1034.2,609.6 L1034.2,824.8" fill="#fff" stroke="#FF0066" stroke-width="4.2" stroke-linejoin="miter"/>
<line x1="1022.65" y1="600" x2="1022.65" y2="612" stroke="#FF0066" stroke-width="1.4" stroke-linecap="butt"/>
<line x1="1016.15" y1="600" x2="1029.15" y2="600" stroke="#FF0066" stroke-width="1.4" stroke-linecap="butt"/>
<line x1="1016.15" y1="612" x2="1029.15" y2="612" stroke="#FF0066" stroke-width="1.4" stroke-linecap="butt"/>
<circle cx="1022.65" cy="599.5" r="1.6" fill="#FF0066"/>
<circle cx="1022.65" cy="611.5" r="1.6" fill="#FF0066"/>
<path d="M1120.7,824.8 L1120.7,598 L1143.8,598 L1143.8,824.8" fill="#fff" stroke="#FF0066" stroke-width="4.2" stroke-linejoin="miter"/>
<line x1="1132.25" y1="591.9" x2="1132.25" y2="598.9" stroke="#FF0066" stroke-width="1.4" stroke-linecap="butt"/>
<line x1="1125.75" y1="591.9" x2="1138.75" y2="591.9" stroke="#FF0066" stroke-width="1.4" stroke-linecap="butt"/>
<line x1="1125.75" y1="598.9" x2="1138.75" y2="598.9" stroke="#FF0066" stroke-width="1.4" stroke-linecap="butt"/>
<circle cx="1132.25" cy="591.9" r="1.6" fill="#FF0066"/>
<circle cx="1132.25" cy="598.9" r="1.6" fill="#FF0066"/>
<text x="727" y="859.2" font-size="20" text-anchor="start" fill="#000" >ZT</text>
<text x="783.6" y="859.2" font-size="22.6" font-weight="bold" text-anchor="middle" fill="#000" >0</text>
<text x="893.2" y="859.2" font-size="22.6" font-weight="bold" text-anchor="middle" fill="#000" >6</text>
<text x="1002.7" y="859.2" font-size="22.6" font-weight="bold" text-anchor="middle" fill="#000" >12</text>
<text x="1111.6" y="859.2" font-size="22.6" font-weight="bold" text-anchor="middle" fill="#000" >18</text>
<rect x="961" y="868.7" width="213" height="20.3" fill="#000" rx="4" />
<rect x="757.4" y="870.2" width="206.7" height="17.3" fill="#fff" stroke="#000" stroke-width="3" rx="3" />
<rect x="755.9" y="891.9" width="208.2" height="17.2" fill="#FFBF03" rx="2.5" />
<rect x="964.1" y="891.9" width="209.6" height="17.2" fill="#DDE9F5" rx="2.5" />
<text x="1369" y="25.8" font-size="46" font-weight="bold" text-anchor="start" fill="#000" >c</text>
<line x1="736.6" y1="539.6" x2="736.6" y2="826.5" stroke="#000" stroke-width="3.4"/>
<line x1="724.1" y1="541.2" x2="736.6" y2="541.2" stroke="#000" stroke-width="3.2"/>
<line x1="724.1" y1="612.1" x2="736.6" y2="612.1" stroke="#000" stroke-width="3.2"/>
<line x1="724.1" y1="683" x2="736.6" y2="683" stroke="#000" stroke-width="3.2"/>
<line x1="724.1" y1="753.9" x2="736.6" y2="753.9" stroke="#000" stroke-width="3.2"/>
<line x1="724.1" y1="824.8" x2="736.6" y2="824.8" stroke="#000" stroke-width="3.2"/>
<line x1="724.1" y1="824.8" x2="1161.8" y2="824.8" stroke="#000" stroke-width="3.3"/>
<line x1="783.6" y1="824.8" x2="783.6" y2="835.3" stroke="#000" stroke-width="3.2"/>
<line x1="893.2" y1="824.8" x2="893.2" y2="835.3" stroke="#000" stroke-width="3.2"/>
<line x1="1002.7" y1="824.8" x2="1002.7" y2="835.3" stroke="#000" stroke-width="3.2"/>
<line x1="1111.6" y1="824.8" x2="1111.6" y2="835.3" stroke="#000" stroke-width="3.2"/>
<text x="1437.6" y="104.7" font-size="21.5" font-weight="bold" text-anchor="end" fill="#000" >2.0</text>
<text x="1437.6" y="174.5" font-size="21.5" font-weight="bold" text-anchor="end" fill="#000" >1.5</text>
<text x="1437.6" y="244.2" font-size="21.5" font-weight="bold" text-anchor="end" fill="#000" >1.0</text>
<text x="1437.6" y="314" font-size="21.5" font-weight="bold" text-anchor="end" fill="#000" >0.5</text>
<text x="1437.6" y="383.8" font-size="21.5" font-weight="bold" text-anchor="end" fill="#000" >0.0</text>
<text x="1395.5" y="236.3" font-size="23" font-weight="bold" text-anchor="middle" fill="#000" transform="rotate(-90 1395.5 236.3)" >Glucose concentration (μmol/mL)</text>
<path d="M1480.95,376.1 L1480.95,154.15 L1530.05,154.15 L1530.05,376.1" fill="#fff" stroke="#000" stroke-width="4.1" stroke-linejoin="miter"/>
<path d="M1560.35,376.1 L1560.35,158.15 L1609.95,158.15 L1609.95,376.1" fill="#fff" stroke="#FF0066" stroke-width="4.1" stroke-linejoin="miter"/>
<line x1="1505.1" y1="110" x2="1505.1" y2="194.6" stroke="#000" stroke-width="1.5" stroke-linecap="butt"/>
<line x1="1491.6" y1="110" x2="1518.6" y2="110" stroke="#000" stroke-width="1.5" stroke-linecap="butt"/>
<line x1="1491.6" y1="194.6" x2="1518.6" y2="194.6" stroke="#000" stroke-width="1.5" stroke-linecap="butt"/>
<circle cx="1505.1" cy="110" r="2.8" fill="#000"/>
<circle cx="1505.1" cy="139.8" r="2.8" fill="#000"/>
<circle cx="1505.1" cy="148.9" r="2.8" fill="#000"/>
<circle cx="1505.1" cy="210.5" r="2.8" fill="#000"/>
<line x1="1585" y1="141.8" x2="1585" y2="170.8" stroke="#FF0066" stroke-width="1.5" stroke-linecap="butt"/>
<line x1="1571.5" y1="141.8" x2="1598.5" y2="141.8" stroke="#FF0066" stroke-width="1.5" stroke-linecap="butt"/>
<line x1="1571.5" y1="170.8" x2="1598.5" y2="170.8" stroke="#FF0066" stroke-width="1.5" stroke-linecap="butt"/>
<rect x="1582.3" y="141.1" width="5.4" height="5.4" fill="#FF0066" />
<rect x="1576.3" y="152.3" width="5.4" height="5.4" fill="#FF0066" />
<rect x="1588.3" y="148.3" width="5.4" height="5.4" fill="#FF0066" />
<rect x="1582.3" y="174.1" width="5.4" height="5.4" fill="#FF0066" />
<text x="1544.6" y="411" font-size="21" font-weight="bold" text-anchor="middle" fill="#000" >Glucose level</text>
<rect x="1639.4" y="105.2" width="28.9" height="14.8" fill="#000" />
<text x="1685" y="121.1" font-size="22.4" text-anchor="start" fill="#000" >WT</text>
<rect x="1639.4" y="143.8" width="28.9" height="15.1" fill="#FF0066" />
<text x="1685" y="159.7" font-size="22.4" text-anchor="start" fill="#000" >H2BK17A</text>
<text x="1289" y="510" font-size="46" font-weight="bold" text-anchor="start" fill="#000" >d</text>
<line x1="1452" y1="95.4" x2="1452" y2="377.85" stroke="#000" stroke-width="3.5"/>
<line x1="1440.2" y1="97" x2="1452" y2="97" stroke="#000" stroke-width="3.2"/>
<line x1="1440.2" y1="166.8" x2="1452" y2="166.8" stroke="#000" stroke-width="3.2"/>
<line x1="1440.2" y1="236.5" x2="1452" y2="236.5" stroke="#000" stroke-width="3.2"/>
<line x1="1440.2" y1="306.3" x2="1452" y2="306.3" stroke="#000" stroke-width="3.2"/>
<line x1="1440.2" y1="376.1" x2="1452" y2="376.1" stroke="#000" stroke-width="3.2"/>
<line x1="1440.2" y1="376.1" x2="1639.7" y2="376.1" stroke="#000" stroke-width="3.4"/>
<line x1="1544.4" y1="376.1" x2="1544.4" y2="388.6" stroke="#000" stroke-width="3.2"/>
<text x="1330" y="544.23" font-size="23" font-weight="bold" text-anchor="end" fill="#000" >0.05</text>
<text x="1330" y="603.03" font-size="23" font-weight="bold" text-anchor="end" fill="#000" >0.04</text>
<text x="1330" y="661.93" font-size="23" font-weight="bold" text-anchor="end" fill="#000" >0.03</text>
<text x="1330" y="720.73" font-size="23" font-weight="bold" text-anchor="end" fill="#000" >0.02</text>
<text x="1330" y="779.63" font-size="23" font-weight="bold" text-anchor="end" fill="#000" >0.01</text>
<text x="1330" y="838.43" font-size="23" font-weight="bold" text-anchor="end" fill="#000" >0.00</text>
<text x="1272.5" y="683.2" font-size="24.5" font-weight="bold" text-anchor="middle" fill="#000" transform="rotate(-90 1272.5 683.2)" >Triglyceride (mg)</text>
<path d="M1367.1,830.2 L1367.1,566.4 L1401.6,566.4 L1401.6,830.2" fill="#fff" stroke="#000" stroke-width="4.6" stroke-linejoin="miter"/>
<path d="M1426.1,830.2 L1426.1,588.1 L1460.2,588.1 L1460.2,830.2" fill="#fff" stroke="#FF0066" stroke-width="4.6" stroke-linejoin="miter"/>
<path d="M1524,830.2 L1524,622.9 L1558.5,622.9 L1558.5,830.2" fill="#fff" stroke="#000" stroke-width="4.6" stroke-linejoin="miter"/>
<path d="M1583,830.2 L1583,652.6 L1617.1,652.6 L1617.1,830.2" fill="#fff" stroke="#FF0066" stroke-width="4.6" stroke-linejoin="miter"/>
<line x1="1384.4" y1="554.7" x2="1384.4" y2="573.6" stroke="#000" stroke-width="1.5" stroke-linecap="butt"/>
<line x1="1375" y1="554.7" x2="1393.8" y2="554.7" stroke="#000" stroke-width="1.5" stroke-linecap="butt"/>
<line x1="1375" y1="573.6" x2="1393.8" y2="573.6" stroke="#000" stroke-width="1.5" stroke-linecap="butt"/>
<circle cx="1384.7" cy="547.8" r="3" fill="#000"/>
<circle cx="1374.2" cy="570" r="3" fill="#000"/>
<circle cx="1384.7" cy="562.4" r="3" fill="#000"/>
<circle cx="1395.2" cy="570" r="3" fill="#000"/>
<circle cx="1384.7" cy="571" r="3" fill="#000"/>
<line x1="1443.3" y1="557.2" x2="1443.3" y2="613.7" stroke="#FF0066" stroke-width="1.5" stroke-linecap="butt"/>
<line x1="1433.9" y1="557.2" x2="1452.7" y2="557.2" stroke="#FF0066" stroke-width="1.5" stroke-linecap="butt"/>
<line x1="1433.9" y1="613.7" x2="1452.7" y2="613.7" stroke="#FF0066" stroke-width="1.5" stroke-linecap="butt"/>
<rect x="1440.3" y="553.5" width="6" height="6" fill="#FF0066" />
<rect x="1434.7" y="569.2" width="6" height="6" fill="#FF0066" />
<rect x="1446.2" y="568.1" width="6" height="6" fill="#FF0066" />
<rect x="1440.3" y="596.7" width="6" height="6" fill="#FF0066" />
<rect x="1440.3" y="624.6" width="6" height="6" fill="#FF0066" />
<line x1="1541.3" y1="613.7" x2="1541.3" y2="627.6" stroke="#000" stroke-width="1.5" stroke-linecap="butt"/>
<line x1="1531.9" y1="613.7" x2="1550.7" y2="613.7" stroke="#000" stroke-width="1.5" stroke-linecap="butt"/>
<line x1="1531.9" y1="627.6" x2="1550.7" y2="627.6" stroke="#000" stroke-width="1.5" stroke-linecap="butt"/>
<circle cx="1541.3" cy="610.5" r="3" fill="#000"/>
<circle cx="1535.7" cy="620.6" r="3" fill="#000"/>
<circle cx="1546.8" cy="619.2" r="3" fill="#000"/>
<circle cx="1535.7" cy="627" r="3" fill="#000"/>
<circle cx="1546.8" cy="625" r="3" fill="#000"/>
<line x1="1600.2" y1="633.2" x2="1600.2" y2="666.3" stroke="#FF0066" stroke-width="1.5" stroke-linecap="butt"/>
<line x1="1590.8" y1="633.2" x2="1609.6" y2="633.2" stroke="#FF0066" stroke-width="1.5" stroke-linecap="butt"/>
<line x1="1590.8" y1="666.3" x2="1609.6" y2="666.3" stroke="#FF0066" stroke-width="1.5" stroke-linecap="butt"/>
<rect x="1592" y="636.8" width="6" height="6" fill="#FF0066" />
<rect x="1602.4" y="636.1" width="6" height="6" fill="#FF0066" />
<rect x="1592" y="642" width="6" height="6" fill="#FF0066" />
<rect x="1597.2" y="655.3" width="6" height="6" fill="#FF0066" />
<rect x="1597.2" y="673.4" width="6" height="6" fill="#FF0066" />
<rect x="1540.6" y="596.2" width="61" height="4.6" fill="#000" />
<text x="1572.1" y="599.91" font-size="37" font-weight="bold" text-anchor="middle" fill="#000" letter-spacing="2">**</text>
<text x="1414" y="865.7" font-size="22" font-weight="bold" text-anchor="middle" fill="#000" >TG/mg</text>
<text x="1570" y="865.7" font-size="22" font-weight="bold" text-anchor="middle" fill="#000" >TG/fly</text>
<rect x="1634" y="542.5" width="30.7" height="14.7" fill="#000" />
<text x="1682.8" y="558.2" font-size="23" text-anchor="start" fill="#000" >WT</text>
<rect x="1634" y="581.6" width="30.7" height="15" fill="#FF0066" />
<text x="1682.8" y="598" font-size="23" text-anchor="start" fill="#000" >H2BK17A</text>
<text x="17" y="1010" font-size="46" font-weight="bold" text-anchor="start" fill="#000" >e</text>
<line x1="1345.5" y1="534.4" x2="1345.5" y2="831.95" stroke="#000" stroke-width="3.5"/>
<line x1="1333" y1="536" x2="1345.5" y2="536" stroke="#000" stroke-width="3.2"/>
<line x1="1333" y1="594.8" x2="1345.5" y2="594.8" stroke="#000" stroke-width="3.2"/>
<line x1="1333" y1="653.7" x2="1345.5" y2="653.7" stroke="#000" stroke-width="3.2"/>
<line x1="1333" y1="712.5" x2="1345.5" y2="712.5" stroke="#000" stroke-width="3.2"/>
<line x1="1333" y1="771.4" x2="1345.5" y2="771.4" stroke="#000" stroke-width="3.2"/>
<line x1="1333" y1="830.2" x2="1345.5" y2="830.2" stroke="#000" stroke-width="3.2"/>
<line x1="1333" y1="830.2" x2="1640.3" y2="830.2" stroke="#000" stroke-width="3.4"/>
<line x1="1413.6" y1="830.2" x2="1413.6" y2="841.7" stroke="#000" stroke-width="3.2"/>
<line x1="1570.5" y1="830.2" x2="1570.5" y2="841.7" stroke="#000" stroke-width="3.2"/>
<text x="73.6" y="1090.56" font-size="22.5" font-weight="bold" text-anchor="end" fill="#000" >50</text>
<text x="73.6" y="1148.12" font-size="22.5" font-weight="bold" text-anchor="end" fill="#000" >40</text>
<text x="73.6" y="1205.67" font-size="22.5" font-weight="bold" text-anchor="end" fill="#000" >30</text>
<text x="73.6" y="1263.24" font-size="22.5" font-weight="bold" text-anchor="end" fill="#000" >20</text>
<text x="73.6" y="1320.8" font-size="22.5" font-weight="bold" text-anchor="end" fill="#000" >10</text>
<text x="73.6" y="1378.36" font-size="22.5" font-weight="bold" text-anchor="end" fill="#000" >0</text>
<text x="35.5" y="1225.8" font-size="24.3" font-weight="bold" text-anchor="middle" fill="#000" transform="rotate(-90 35.5 1225.8)" >5% yeast left (μL)</text>
<text x="109.7" y="1405.1" font-size="21.5" font-weight="bold" text-anchor="middle" fill="#000" >0h</text>
<text x="158" y="1405.1" font-size="21.5" font-weight="bold" text-anchor="middle" fill="#000" >1h</text>
<text x="206.3" y="1405.1" font-size="21.5" font-weight="bold" text-anchor="middle" fill="#000" >2h</text>
<text x="254.7" y="1405.1" font-size="21.5" font-weight="bold" text-anchor="middle" fill="#000" >3h</text>
<text x="303.7" y="1405.1" font-size="21.5" font-weight="bold" text-anchor="middle" fill="#000" >4h</text>
<text x="352" y="1405.1" font-size="21.5" font-weight="bold" text-anchor="middle" fill="#000" >5h</text>
<text x="401" y="1405.1" font-size="21.5" font-weight="bold" text-anchor="middle" fill="#000" >6h</text>
<text x="449.3" y="1405.1" font-size="21.5" font-weight="bold" text-anchor="middle" fill="#000" >7h</text>
<text x="497.9" y="1405.1" font-size="21.5" font-weight="bold" text-anchor="middle" fill="#000" >8h</text>
<text x="304.5" y="1450" font-size="23" font-weight="bold" text-anchor="middle" fill="#000" >Time</text>
<circle cx="402.7" cy="1081.8" r="3.2" fill="#000"/>
<text x="436.5" y="1090.4" font-size="23.2" text-anchor="start" fill="#000" >WT</text>
<rect x="400.45" y="1117.85" width="6.5" height="6.5" fill="#FF0066" />
<text x="436.5" y="1130.1" font-size="23.2" text-anchor="start" fill="#000" >H2BK17A</text>
<circle cx="97.31" cy="1130.46" r="3.2" fill="#000"/>
<circle cx="100.07" cy="1130.46" r="3.2" fill="#000"/>
<circle cx="102.83" cy="1130.46" r="3.2" fill="#000"/>
<circle cx="104.55" cy="1130.46" r="3.2" fill="#000"/>
<rect x="113.38" y="1126.87" width="6.5" height="6.5" fill="#FF0066" />
<rect x="116.14" y="1126.87" width="6.5" height="6.5" fill="#FF0066" />
<rect x="118.9" y="1126.87" width="6.5" height="6.5" fill="#FF0066" />
<line x1="149.41" y1="1141.85" x2="149.41" y2="1154.96" stroke="#000" stroke-width="1.6" stroke-linecap="butt"/>
<line x1="145.81" y1="1141.85" x2="153.01" y2="1141.85" stroke="#000" stroke-width="1.6" stroke-linecap="butt"/>
<line x1="145.81" y1="1154.96" x2="153.01" y2="1154.96" stroke="#000" stroke-width="1.6" stroke-linecap="butt"/>
<line x1="142.91" y1="1148.06" x2="155.91" y2="1148.06" stroke="#000" stroke-width="1.8" stroke-linecap="butt"/>
<circle cx="146.65" cy="1141.85" r="3.2" fill="#000"/>
<circle cx="152.52" cy="1137.71" r="3.2" fill="#000"/>
<circle cx="146.65" cy="1156.69" r="3.2" fill="#000"/>
<circle cx="152.52" cy="1155.65" r="3.2" fill="#000"/>
<line x1="167.36" y1="1138.74" x2="167.36" y2="1143.57" stroke="#FF0066" stroke-width="1.6" stroke-linecap="butt"/>
<line x1="163.76" y1="1138.74" x2="170.96" y2="1138.74" stroke="#FF0066" stroke-width="1.6" stroke-linecap="butt"/>
<line x1="163.76" y1="1143.57" x2="170.96" y2="1143.57" stroke="#FF0066" stroke-width="1.6" stroke-linecap="butt"/>
<line x1="160.86" y1="1141.16" x2="173.86" y2="1141.16" stroke="#FF0066" stroke-width="1.8" stroke-linecap="butt"/>
<rect x="161.69" y="1136.18" width="6.5" height="6.5" fill="#FF0066" />
<rect x="166.87" y="1136.87" width="6.5" height="6.5" fill="#FF0066" />
<rect x="161.69" y="1140.67" width="6.5" height="6.5" fill="#FF0066" />
<rect x="165.83" y="1138.94" width="6.5" height="6.5" fill="#FF0066" />
<line x1="197.72" y1="1156.69" x2="197.72" y2="1177.39" stroke="#000" stroke-width="1.6" stroke-linecap="butt"/>
<line x1="194.12" y1="1156.69" x2="201.32" y2="1156.69" stroke="#000" stroke-width="1.6" stroke-linecap="butt"/>
<line x1="194.12" y1="1177.39" x2="201.32" y2="1177.39" stroke="#000" stroke-width="1.6" stroke-linecap="butt"/>
<line x1="191.22" y1="1167.04" x2="204.22" y2="1167.04" stroke="#000" stroke-width="1.8" stroke-linecap="butt"/>
<circle cx="197.72" cy="1149.79" r="3.2" fill="#000"/>
<circle cx="197.72" cy="1157.38" r="3.2" fill="#000"/>
<circle cx="197.72" cy="1176.36" r="3.2" fill="#000"/>
<circle cx="197.72" cy="1183.6" r="3.2" fill="#000"/>
<line x1="216.7" y1="1146.68" x2="216.7" y2="1152.2" stroke="#FF0066" stroke-width="1.6" stroke-linecap="butt"/>
<line x1="213.1" y1="1146.68" x2="220.3" y2="1146.68" stroke="#FF0066" stroke-width="1.6" stroke-linecap="butt"/>
<line x1="213.1" y1="1152.2" x2="220.3" y2="1152.2" stroke="#FF0066" stroke-width="1.6" stroke-linecap="butt"/>
<line x1="210.2" y1="1149.44" x2="223.2" y2="1149.44" stroke="#FF0066" stroke-width="1.8" stroke-linecap="butt"/>
<rect x="211.04" y="1144.81" width="6.5" height="6.5" fill="#FF0066" />
<rect x="216.21" y="1143.09" width="6.5" height="6.5" fill="#FF0066" />
<rect x="211.04" y="1148.61" width="6.5" height="6.5" fill="#FF0066" />
<rect x="216.21" y="1148.26" width="6.5" height="6.5" fill="#FF0066" />
<line x1="246.03" y1="1189.81" x2="246.03" y2="1195.33" stroke="#000" stroke-width="1.6" stroke-linecap="butt"/>
<line x1="242.43" y1="1189.81" x2="249.63" y2="1189.81" stroke="#000" stroke-width="1.6" stroke-linecap="butt"/>
<line x1="242.43" y1="1195.33" x2="249.63" y2="1195.33" stroke="#000" stroke-width="1.6" stroke-linecap="butt"/>
<line x1="239.53" y1="1192.57" x2="252.53" y2="1192.57" stroke="#000" stroke-width="1.8" stroke-linecap="butt"/>
<circle cx="243.96" cy="1189.47" r="3.2" fill="#000"/>
<circle cx="247.41" cy="1190.5" r="3.2" fill="#000"/>
<circle cx="243.96" cy="1196.37" r="3.2" fill="#000"/>
<circle cx="249.48" cy="1193.61" r="3.2" fill="#000"/>
<line x1="265.01" y1="1153.24" x2="265.01" y2="1163.59" stroke="#FF0066" stroke-width="1.6" stroke-linecap="butt"/>
<line x1="261.41" y1="1153.24" x2="268.61" y2="1153.24" stroke="#FF0066" stroke-width="1.6" stroke-linecap="butt"/>
<line x1="261.41" y1="1163.59" x2="268.61" y2="1163.59" stroke="#FF0066" stroke-width="1.6" stroke-linecap="butt"/>
<line x1="258.51" y1="1158.41" x2="271.51" y2="1158.41" stroke="#FF0066" stroke-width="1.8" stroke-linecap="butt"/>
<rect x="259" y="1149.99" width="6.5" height="6.5" fill="#FF0066" />
<rect x="264.87" y="1147.23" width="6.5" height="6.5" fill="#FF0066" />
<rect x="259" y="1161.03" width="6.5" height="6.5" fill="#FF0066" />
<rect x="264.87" y="1160.34" width="6.5" height="6.5" fill="#FF0066" />
<line x1="295.03" y1="1221.21" x2="295.03" y2="1224.67" stroke="#000" stroke-width="1.6" stroke-linecap="butt"/>
<line x1="291.43" y1="1221.21" x2="298.63" y2="1221.21" stroke="#000" stroke-width="1.6" stroke-linecap="butt"/>
<line x1="291.43" y1="1224.67" x2="298.63" y2="1224.67" stroke="#000" stroke-width="1.6" stroke-linecap="butt"/>
<line x1="288.53" y1="1222.94" x2="301.53" y2="1222.94" stroke="#000" stroke-width="1.8" stroke-linecap="butt"/>
<circle cx="292.27" cy="1224.67" r="3.2" fill="#000"/>
<circle cx="294.34" cy="1221.21" r="3.2" fill="#000"/>
<circle cx="297.79" cy="1222.59" r="3.2" fill="#000"/>
<line x1="313.32" y1="1166" x2="313.32" y2="1187.74" stroke="#FF0066" stroke-width="1.6" stroke-linecap="butt"/>
<line x1="309.72" y1="1166" x2="316.92" y2="1166" stroke="#FF0066" stroke-width="1.6" stroke-linecap="butt"/>
<line x1="309.72" y1="1187.74" x2="316.92" y2="1187.74" stroke="#FF0066" stroke-width="1.6" stroke-linecap="butt"/>
<line x1="306.82" y1="1176.7" x2="319.82" y2="1176.7" stroke="#FF0066" stroke-width="1.8" stroke-linecap="butt"/>
<rect x="307.31" y="1163.79" width="6.5" height="6.5" fill="#FF0066" />
<rect x="313.18" y="1168.97" width="6.5" height="6.5" fill="#FF0066" />
<rect x="310.07" y="1172.42" width="6.5" height="6.5" fill="#FF0066" />
<rect x="310.07" y="1190.36" width="6.5" height="6.5" fill="#FF0066" />
<line x1="343.34" y1="1236.05" x2="343.34" y2="1259.52" stroke="#000" stroke-width="1.6" stroke-linecap="butt"/>
<line x1="339.74" y1="1236.05" x2="346.94" y2="1236.05" stroke="#000" stroke-width="1.6" stroke-linecap="butt"/>
<line x1="339.74" y1="1259.52" x2="346.94" y2="1259.52" stroke="#000" stroke-width="1.6" stroke-linecap="butt"/>
<line x1="336.84" y1="1247.44" x2="349.84" y2="1247.44" stroke="#000" stroke-width="1.8" stroke-linecap="butt"/>
<circle cx="343.34" cy="1232.6" r="3.2" fill="#000"/>
<circle cx="346.1" cy="1253.31" r="3.2" fill="#000"/>
<circle cx="340.58" cy="1258.48" r="3.2" fill="#000"/>
<circle cx="343.34" cy="1246.4" r="3.2" fill="#000"/>
<line x1="361.63" y1="1183.6" x2="361.63" y2="1227.43" stroke="#FF0066" stroke-width="1.6" stroke-linecap="butt"/>
<line x1="358.03" y1="1183.6" x2="365.23" y2="1183.6" stroke="#FF0066" stroke-width="1.6" stroke-linecap="butt"/>
<line x1="358.03" y1="1227.43" x2="365.23" y2="1227.43" stroke="#FF0066" stroke-width="1.6" stroke-linecap="butt"/>
<line x1="355.13" y1="1205.34" x2="368.13" y2="1205.34" stroke="#FF0066" stroke-width="1.8" stroke-linecap="butt"/>
<rect x="361.48" y="1182.77" width="6.5" height="6.5" fill="#FF0066" />
<rect x="358.38" y="1206.92" width="6.5" height="6.5" fill="#FF0066" />
<rect x="358.38" y="1231.77" width="6.5" height="6.5" fill="#FF0066" />
<line x1="392.34" y1="1261.93" x2="392.34" y2="1289.54" stroke="#000" stroke-width="1.6" stroke-linecap="butt"/>
<line x1="388.74" y1="1261.93" x2="395.94" y2="1261.93" stroke="#000" stroke-width="1.6" stroke-linecap="butt"/>
<line x1="388.74" y1="1289.54" x2="395.94" y2="1289.54" stroke="#000" stroke-width="1.6" stroke-linecap="butt"/>
<line x1="385.84" y1="1275.73" x2="398.84" y2="1275.73" stroke="#000" stroke-width="1.8" stroke-linecap="butt"/>
<circle cx="392.34" cy="1256.76" r="3.2" fill="#000"/>
<circle cx="392.34" cy="1272.28" r="3.2" fill="#000"/>
<circle cx="389.23" cy="1287.81" r="3.2" fill="#000"/>
<circle cx="395.1" cy="1285.4" r="3.2" fill="#000"/>
<line x1="409.94" y1="1205.69" x2="409.94" y2="1241.23" stroke="#FF0066" stroke-width="1.6" stroke-linecap="butt"/>
<line x1="406.34" y1="1205.69" x2="413.54" y2="1205.69" stroke="#FF0066" stroke-width="1.6" stroke-linecap="butt"/>
<line x1="406.34" y1="1241.23" x2="413.54" y2="1241.23" stroke="#FF0066" stroke-width="1.6" stroke-linecap="butt"/>
<line x1="403.44" y1="1222.25" x2="416.44" y2="1222.25" stroke="#FF0066" stroke-width="1.8" stroke-linecap="butt"/>
<rect x="406.69" y="1200.02" width="6.5" height="6.5" fill="#FF0066" />
<rect x="406.69" y="1209.68" width="6.5" height="6.5" fill="#FF0066" />
<rect x="406.69" y="1224.18" width="6.5" height="6.5" fill="#FF0066" />
<rect x="406.69" y="1243.15" width="6.5" height="6.5" fill="#FF0066" />
<line x1="440.65" y1="1275.73" x2="440.65" y2="1305.07" stroke="#000" stroke-width="1.6" stroke-linecap="butt"/>
<line x1="437.05" y1="1275.73" x2="444.25" y2="1275.73" stroke="#000" stroke-width="1.6" stroke-linecap="butt"/>
<line x1="437.05" y1="1305.07" x2="444.25" y2="1305.07" stroke="#000" stroke-width="1.6" stroke-linecap="butt"/>
<line x1="434.15" y1="1290.23" x2="447.15" y2="1290.23" stroke="#000" stroke-width="1.8" stroke-linecap="butt"/>
<circle cx="440.65" cy="1270.56" r="3.2" fill="#000"/>
<circle cx="440.65" cy="1286.09" r="3.2" fill="#000"/>
<circle cx="440.65" cy="1294.71" r="3.2" fill="#000"/>
<circle cx="440.65" cy="1307.83" r="3.2" fill="#000"/>
<line x1="458.94" y1="1223.98" x2="458.94" y2="1263.66" stroke="#FF0066" stroke-width="1.6" stroke-linecap="butt"/>
<line x1="455.34" y1="1223.98" x2="462.54" y2="1223.98" stroke="#FF0066" stroke-width="1.6" stroke-linecap="butt"/>
<line x1="455.34" y1="1263.66" x2="462.54" y2="1263.66" stroke="#FF0066" stroke-width="1.6" stroke-linecap="butt"/>
<line x1="452.44" y1="1243.64" x2="465.44" y2="1243.64" stroke="#FF0066" stroke-width="1.8" stroke-linecap="butt"/>
<rect x="452.93" y="1221.76" width="6.5" height="6.5" fill="#FF0066" />
<rect x="458.45" y="1221.76" width="6.5" height="6.5" fill="#FF0066" />
<rect x="452.93" y="1260.41" width="6.5" height="6.5" fill="#FF0066" />
<rect x="458.45" y="1258.68" width="6.5" height="6.5" fill="#FF0066" />
<line x1="489.3" y1="1313.69" x2="489.3" y2="1344.75" stroke="#000" stroke-width="1.6" stroke-linecap="butt"/>
<line x1="485.7" y1="1313.69" x2="492.9" y2="1313.69" stroke="#000" stroke-width="1.6" stroke-linecap="butt"/>
<line x1="485.7" y1="1344.75" x2="492.9" y2="1344.75" stroke="#000" stroke-width="1.6" stroke-linecap="butt"/>
<line x1="482.8" y1="1328.53" x2="495.8" y2="1328.53" stroke="#000" stroke-width="1.8" stroke-linecap="butt"/>
<circle cx="489.3" cy="1312.66" r="3.2" fill="#000"/>
<circle cx="486.54" cy="1326.46" r="3.2" fill="#000"/>
<circle cx="492.41" cy="1324.04" r="3.2" fill="#000"/>
<circle cx="489.3" cy="1350.96" r="3.2" fill="#000"/>
<line x1="507.25" y1="1246.4" x2="507.25" y2="1292.99" stroke="#FF0066" stroke-width="1.6" stroke-linecap="butt"/>
<line x1="503.65" y1="1246.4" x2="510.85" y2="1246.4" stroke="#FF0066" stroke-width="1.6" stroke-linecap="butt"/>
<line x1="503.65" y1="1292.99" x2="510.85" y2="1292.99" stroke="#FF0066" stroke-width="1.6" stroke-linecap="butt"/>
<line x1="500.75" y1="1269.52" x2="513.75" y2="1269.52" stroke="#FF0066" stroke-width="1.8" stroke-linecap="butt"/>
<rect x="501.24" y="1243.84" width="6.5" height="6.5" fill="#FF0066" />
<rect x="507.45" y="1243.15" width="6.5" height="6.5" fill="#FF0066" />
<rect x="504" y="1282.15" width="6.5" height="6.5" fill="#FF0066" />
<rect x="504" y="1294.22" width="6.5" height="6.5" fill="#FF0066" />
<rect x="243.27" y="1112.88" width="24.84" height="4.8" fill="#000" />
<text x="255.69" y="1117.76" font-size="36" font-weight="bold" text-anchor="middle" fill="#000" >*</text>
<rect x="287.44" y="1137.72" width="24.84" height="4.8" fill="#000" />
<text x="299.86" y="1142.6" font-size="36" font-weight="bold" text-anchor="middle" fill="#000" >*</text>
<rect x="336.44" y="1161.88" width="24.84" height="4.8" fill="#000" />
<text x="348.86" y="1166.76" font-size="36" font-weight="bold" text-anchor="middle" fill="#000" >*</text>
<rect x="383.02" y="1182.93" width="24.84" height="4.8" fill="#000" />
<text x="395.45" y="1187.81" font-size="36" font-weight="bold" text-anchor="middle" fill="#000" >*</text>
<rect x="434.09" y="1207.08" width="24.84" height="4.8" fill="#000" />
<text x="446.51" y="1211.96" font-size="36" font-weight="bold" text-anchor="middle" fill="#000" >*</text>
<rect x="482.4" y="1229.51" width="24.84" height="4.8" fill="#000" />
<text x="494.82" y="1234.39" font-size="36" font-weight="bold" text-anchor="middle" fill="#000" >*</text>
<text x="612" y="1018" font-size="46" font-weight="bold" text-anchor="start" fill="#000" >f</text>
<line x1="88.8" y1="1080.9" x2="88.8" y2="1372.05" stroke="#000" stroke-width="3.5"/>
<line x1="76.6" y1="1082.5" x2="88.8" y2="1082.5" stroke="#000" stroke-width="3.2"/>
<line x1="76.6" y1="1140.06" x2="88.8" y2="1140.06" stroke="#000" stroke-width="3.2"/>
<line x1="76.6" y1="1197.62" x2="88.8" y2="1197.62" stroke="#000" stroke-width="3.2"/>
<line x1="76.6" y1="1255.18" x2="88.8" y2="1255.18" stroke="#000" stroke-width="3.2"/>
<line x1="76.6" y1="1312.74" x2="88.8" y2="1312.74" stroke="#000" stroke-width="3.2"/>
<line x1="76.6" y1="1370.3" x2="88.8" y2="1370.3" stroke="#000" stroke-width="3.2"/>
<line x1="76.6" y1="1370.3" x2="521" y2="1370.3" stroke="#000" stroke-width="3.5"/>
<line x1="109.7" y1="1370.3" x2="109.7" y2="1382.3" stroke="#000" stroke-width="3.2"/>
<line x1="158" y1="1370.3" x2="158" y2="1382.3" stroke="#000" stroke-width="3.2"/>
<line x1="206.3" y1="1370.3" x2="206.3" y2="1382.3" stroke="#000" stroke-width="3.2"/>
<line x1="254.7" y1="1370.3" x2="254.7" y2="1382.3" stroke="#000" stroke-width="3.2"/>
<line x1="303.7" y1="1370.3" x2="303.7" y2="1382.3" stroke="#000" stroke-width="3.2"/>
<line x1="352" y1="1370.3" x2="352" y2="1382.3" stroke="#000" stroke-width="3.2"/>
<line x1="401" y1="1370.3" x2="401" y2="1382.3" stroke="#000" stroke-width="3.2"/>
<line x1="449.3" y1="1370.3" x2="449.3" y2="1382.3" stroke="#000" stroke-width="3.2"/>
<line x1="497.9" y1="1370.3" x2="497.9" y2="1382.3" stroke="#000" stroke-width="3.2"/>
<text x="626.9" y="1088.36" font-size="22.5" font-weight="bold" text-anchor="end" fill="#000" >50</text>
<text x="626.9" y="1145.28" font-size="22.5" font-weight="bold" text-anchor="end" fill="#000" >40</text>
<text x="626.9" y="1202.19" font-size="22.5" font-weight="bold" text-anchor="end" fill="#000" >30</text>
<text x="626.9" y="1259.12" font-size="22.5" font-weight="bold" text-anchor="end" fill="#000" >20</text>
<text x="626.9" y="1316.04" font-size="22.5" font-weight="bold" text-anchor="end" fill="#000" >10</text>
<text x="626.9" y="1372.96" font-size="22.5" font-weight="bold" text-anchor="end" fill="#000" >0</text>
<text x="589.9" y="1224.4" font-size="24.2" font-weight="bold" text-anchor="middle" fill="#000" transform="rotate(-90 589.9 1224.4)" >5% sucrose left (μL)</text>
<text x="665.2" y="1400" font-size="21.5" font-weight="bold" text-anchor="middle" fill="#000" >0h</text>
<text x="719.4" y="1400" font-size="21.5" font-weight="bold" text-anchor="middle" fill="#000" >1h</text>
<text x="773.2" y="1400" font-size="21.5" font-weight="bold" text-anchor="middle" fill="#000" >2h</text>
<text x="827.4" y="1400" font-size="21.5" font-weight="bold" text-anchor="middle" fill="#000" >3h</text>
<text x="880.9" y="1400" font-size="21.5" font-weight="bold" text-anchor="middle" fill="#000" >4h</text>
<text x="935.4" y="1400" font-size="21.5" font-weight="bold" text-anchor="middle" fill="#000" >5h</text>
<text x="989.6" y="1400" font-size="21.5" font-weight="bold" text-anchor="middle" fill="#000" >6h</text>
<text x="1043.8" y="1400" font-size="21.5" font-weight="bold" text-anchor="middle" fill="#000" >7h</text>
<text x="855" y="1444.8" font-size="23" font-weight="bold" text-anchor="middle" fill="#000" >Time</text>
<circle cx="938.5" cy="1099.8" r="3.2" fill="#000"/>
<text x="971.3" y="1108.4" font-size="23" text-anchor="start" fill="#000" >WT</text>
<rect x="935.25" y="1135.15" width="6.5" height="6.5" fill="#FF0066" />
<text x="971.3" y="1147.4" font-size="23" text-anchor="start" fill="#000" >H2BK17A</text>
<circle cx="652.13" cy="1137.36" r="3.2" fill="#000"/>
<circle cx="654.89" cy="1137.36" r="3.2" fill="#000"/>
<circle cx="657.65" cy="1137.36" r="3.2" fill="#000"/>
<circle cx="659.38" cy="1137.36" r="3.2" fill="#000"/>
<rect x="668.9" y="1134.11" width="6.5" height="6.5" fill="#FF0066" />
<rect x="672.35" y="1134.11" width="6.5" height="6.5" fill="#FF0066" />
<rect x="675.8" y="1134.11" width="6.5" height="6.5" fill="#FF0066" />
<line x1="709.41" y1="1149.1" x2="709.41" y2="1163.59" stroke="#000" stroke-width="1.6" stroke-linecap="butt"/>
<line x1="705.81" y1="1149.1" x2="713.01" y2="1149.1" stroke="#000" stroke-width="1.6" stroke-linecap="butt"/>
<line x1="705.81" y1="1163.59" x2="713.01" y2="1163.59" stroke="#000" stroke-width="1.6" stroke-linecap="butt"/>
<line x1="702.91" y1="1156.69" x2="715.91" y2="1156.69" stroke="#000" stroke-width="1.8" stroke-linecap="butt"/>
<circle cx="713.55" cy="1147.03" r="3.2" fill="#000"/>
<circle cx="709.41" cy="1151.51" r="3.2" fill="#000"/>
<circle cx="705.62" cy="1156" r="3.2" fill="#000"/>
<circle cx="713.55" cy="1156.69" r="3.2" fill="#000"/>
<circle cx="709.41" cy="1166.35" r="3.2" fill="#000"/>
<line x1="729.08" y1="1148.06" x2="729.08" y2="1173.94" stroke="#FF0066" stroke-width="1.6" stroke-linecap="butt"/>
<line x1="725.48" y1="1148.06" x2="732.68" y2="1148.06" stroke="#FF0066" stroke-width="1.6" stroke-linecap="butt"/>
<line x1="725.48" y1="1173.94" x2="732.68" y2="1173.94" stroke="#FF0066" stroke-width="1.6" stroke-linecap="butt"/>
<line x1="722.58" y1="1160.14" x2="735.58" y2="1160.14" stroke="#FF0066" stroke-width="1.8" stroke-linecap="butt"/>
<rect x="725.83" y="1143.78" width="6.5" height="6.5" fill="#FF0066" />
<rect x="730.32" y="1148.26" width="6.5" height="6.5" fill="#FF0066" />
<rect x="721.69" y="1153.44" width="6.5" height="6.5" fill="#FF0066" />
<rect x="730.32" y="1170.69" width="6.5" height="6.5" fill="#FF0066" />
<rect x="721.69" y="1175.18" width="6.5" height="6.5" fill="#FF0066" />
<line x1="763.59" y1="1167.04" x2="763.59" y2="1187.74" stroke="#000" stroke-width="1.6" stroke-linecap="butt"/>
<line x1="759.99" y1="1167.04" x2="767.19" y2="1167.04" stroke="#000" stroke-width="1.6" stroke-linecap="butt"/>
<line x1="759.99" y1="1187.74" x2="767.19" y2="1187.74" stroke="#000" stroke-width="1.6" stroke-linecap="butt"/>
<line x1="757.09" y1="1177.39" x2="770.09" y2="1177.39" stroke="#000" stroke-width="1.8" stroke-linecap="butt"/>
<circle cx="759.45" cy="1166.35" r="3.2" fill="#000"/>
<circle cx="767.73" cy="1166.35" r="3.2" fill="#000"/>
<circle cx="759.45" cy="1178.08" r="3.2" fill="#000"/>
<circle cx="767.73" cy="1178.08" r="3.2" fill="#000"/>
<circle cx="763.59" cy="1190.5" r="3.2" fill="#000"/>
<line x1="783.6" y1="1166" x2="783.6" y2="1191.88" stroke="#FF0066" stroke-width="1.6" stroke-linecap="butt"/>
<line x1="780" y1="1166" x2="787.2" y2="1166" stroke="#FF0066" stroke-width="1.6" stroke-linecap="butt"/>
<line x1="780" y1="1191.88" x2="787.2" y2="1191.88" stroke="#FF0066" stroke-width="1.6" stroke-linecap="butt"/>
<line x1="777.1" y1="1179.12" x2="790.1" y2="1179.12" stroke="#FF0066" stroke-width="1.8" stroke-linecap="butt"/>
<rect x="780.35" y="1158.61" width="6.5" height="6.5" fill="#FF0066" />
<rect x="784.49" y="1174.83" width="6.5" height="6.5" fill="#FF0066" />
<rect x="777.59" y="1175.87" width="6.5" height="6.5" fill="#FF0066" />
<rect x="780.35" y="1194.85" width="6.5" height="6.5" fill="#FF0066" />
<line x1="817.76" y1="1186.02" x2="817.76" y2="1205.69" stroke="#000" stroke-width="1.6" stroke-linecap="butt"/>
<line x1="814.16" y1="1186.02" x2="821.36" y2="1186.02" stroke="#000" stroke-width="1.6" stroke-linecap="butt"/>
<line x1="814.16" y1="1205.69" x2="821.36" y2="1205.69" stroke="#000" stroke-width="1.6" stroke-linecap="butt"/>
<line x1="811.26" y1="1196.37" x2="824.26" y2="1196.37" stroke="#000" stroke-width="1.8" stroke-linecap="butt"/>
<circle cx="817.76" cy="1178.08" r="3.2" fill="#000"/>
<circle cx="813.62" cy="1198.1" r="3.2" fill="#000"/>
<circle cx="821.56" cy="1197.41" r="3.2" fill="#000"/>
<circle cx="817.76" cy="1203.27" r="3.2" fill="#000"/>
<circle cx="815.35" cy="1201.55" r="3.2" fill="#000"/>
<line x1="837.78" y1="1179.12" x2="837.78" y2="1206.72" stroke="#FF0066" stroke-width="1.6" stroke-linecap="butt"/>
<line x1="834.18" y1="1179.12" x2="841.38" y2="1179.12" stroke="#FF0066" stroke-width="1.6" stroke-linecap="butt"/>
<line x1="834.18" y1="1206.72" x2="841.38" y2="1206.72" stroke="#FF0066" stroke-width="1.6" stroke-linecap="butt"/>
<line x1="831.28" y1="1192.92" x2="844.28" y2="1192.92" stroke="#FF0066" stroke-width="1.8" stroke-linecap="butt"/>
<rect x="834.53" y="1172.42" width="6.5" height="6.5" fill="#FF0066" />
<rect x="834.53" y="1182.77" width="6.5" height="6.5" fill="#FF0066" />
<rect x="834.53" y="1194.85" width="6.5" height="6.5" fill="#FF0066" />
<rect x="834.53" y="1201.06" width="6.5" height="6.5" fill="#FF0066" />
<rect x="834.53" y="1206.23" width="6.5" height="6.5" fill="#FF0066" />
<line x1="871.59" y1="1198.1" x2="871.59" y2="1233.64" stroke="#000" stroke-width="1.6" stroke-linecap="butt"/>
<line x1="867.99" y1="1198.1" x2="875.19" y2="1198.1" stroke="#000" stroke-width="1.6" stroke-linecap="butt"/>
<line x1="867.99" y1="1233.64" x2="875.19" y2="1233.64" stroke="#000" stroke-width="1.6" stroke-linecap="butt"/>
<line x1="865.09" y1="1215.35" x2="878.09" y2="1215.35" stroke="#000" stroke-width="1.8" stroke-linecap="butt"/>
<circle cx="871.59" cy="1190.16" r="3.2" fill="#000"/>
<circle cx="867.8" cy="1213.62" r="3.2" fill="#000"/>
<circle cx="875.73" cy="1217.07" r="3.2" fill="#000"/>
<circle cx="867.8" cy="1218.8" r="3.2" fill="#000"/>
<circle cx="871.59" cy="1241.23" r="3.2" fill="#000"/>
<line x1="891.95" y1="1191.88" x2="891.95" y2="1226.39" stroke="#FF0066" stroke-width="1.6" stroke-linecap="butt"/>
<line x1="888.35" y1="1191.88" x2="895.55" y2="1191.88" stroke="#FF0066" stroke-width="1.6" stroke-linecap="butt"/>
<line x1="888.35" y1="1226.39" x2="895.55" y2="1226.39" stroke="#FF0066" stroke-width="1.6" stroke-linecap="butt"/>
<line x1="885.45" y1="1209.14" x2="898.45" y2="1209.14" stroke="#FF0066" stroke-width="1.8" stroke-linecap="butt"/>
<rect x="888.7" y="1186.91" width="6.5" height="6.5" fill="#FF0066" />
<rect x="888.7" y="1194.85" width="6.5" height="6.5" fill="#FF0066" />
<rect x="892.15" y="1220.73" width="6.5" height="6.5" fill="#FF0066" />
<rect x="884.56" y="1225.21" width="6.5" height="6.5" fill="#FF0066" />
<rect x="888.7" y="1205.89" width="6.5" height="6.5" fill="#FF0066" />
<line x1="925.77" y1="1206.72" x2="925.77" y2="1261.24" stroke="#000" stroke-width="1.6" stroke-linecap="butt"/>
<line x1="922.17" y1="1206.72" x2="929.37" y2="1206.72" stroke="#000" stroke-width="1.6" stroke-linecap="butt"/>
<line x1="922.17" y1="1261.24" x2="929.37" y2="1261.24" stroke="#000" stroke-width="1.6" stroke-linecap="butt"/>
<line x1="919.27" y1="1234.33" x2="932.27" y2="1234.33" stroke="#000" stroke-width="1.8" stroke-linecap="butt"/>
<circle cx="925.77" cy="1197.41" r="3.2" fill="#000"/>
<circle cx="921.63" cy="1228.46" r="3.2" fill="#000"/>
<circle cx="929.91" cy="1233.64" r="3.2" fill="#000"/>
<circle cx="921.63" cy="1236.05" r="3.2" fill="#000"/>
<circle cx="925.77" cy="1274.01" r="3.2" fill="#000"/>
<line x1="945.78" y1="1206.72" x2="945.78" y2="1251.58" stroke="#FF0066" stroke-width="1.6" stroke-linecap="butt"/>
<line x1="942.18" y1="1206.72" x2="949.38" y2="1206.72" stroke="#FF0066" stroke-width="1.6" stroke-linecap="butt"/>
<line x1="942.18" y1="1251.58" x2="949.38" y2="1251.58" stroke="#FF0066" stroke-width="1.6" stroke-linecap="butt"/>
<line x1="939.28" y1="1228.46" x2="952.28" y2="1228.46" stroke="#FF0066" stroke-width="1.8" stroke-linecap="butt"/>
<rect x="946.67" y="1201.75" width="6.5" height="6.5" fill="#FF0066" />
<rect x="938.74" y="1205.89" width="6.5" height="6.5" fill="#FF0066" />
<rect x="942.53" y="1239.7" width="6.5" height="6.5" fill="#FF0066" />
<rect x="942.53" y="1256.96" width="6.5" height="6.5" fill="#FF0066" />
<rect x="942.53" y="1225.21" width="6.5" height="6.5" fill="#FF0066" />
<line x1="979.94" y1="1217.07" x2="979.94" y2="1280.91" stroke="#000" stroke-width="1.6" stroke-linecap="butt"/>
<line x1="976.34" y1="1217.07" x2="983.54" y2="1217.07" stroke="#000" stroke-width="1.6" stroke-linecap="butt"/>
<line x1="976.34" y1="1280.91" x2="983.54" y2="1280.91" stroke="#000" stroke-width="1.6" stroke-linecap="butt"/>
<line x1="973.44" y1="1248.13" x2="986.44" y2="1248.13" stroke="#000" stroke-width="1.8" stroke-linecap="butt"/>
<circle cx="979.94" cy="1209.48" r="3.2" fill="#000"/>
<circle cx="979.94" cy="1243.99" r="3.2" fill="#000"/>
<circle cx="983.74" cy="1245.71" r="3.2" fill="#000"/>
<circle cx="975.8" cy="1248.13" r="3.2" fill="#000"/>
<circle cx="979.94" cy="1298.16" r="3.2" fill="#000"/>
<line x1="999.96" y1="1223.98" x2="999.96" y2="1267.11" stroke="#FF0066" stroke-width="1.6" stroke-linecap="butt"/>
<line x1="996.36" y1="1223.98" x2="1003.56" y2="1223.98" stroke="#FF0066" stroke-width="1.6" stroke-linecap="butt"/>
<line x1="996.36" y1="1267.11" x2="1003.56" y2="1267.11" stroke="#FF0066" stroke-width="1.6" stroke-linecap="butt"/>
<line x1="993.46" y1="1244.68" x2="1006.46" y2="1244.68" stroke="#FF0066" stroke-width="1.8" stroke-linecap="butt"/>
<rect x="1000.85" y="1218.31" width="6.5" height="6.5" fill="#FF0066" />
<rect x="993.26" y="1222.45" width="6.5" height="6.5" fill="#FF0066" />
<rect x="996.71" y="1243.15" width="6.5" height="6.5" fill="#FF0066" />
<rect x="996.71" y="1256.96" width="6.5" height="6.5" fill="#FF0066" />
<rect x="996.71" y="1273.52" width="6.5" height="6.5" fill="#FF0066" />
<line x1="1033.78" y1="1221.21" x2="1033.78" y2="1300.92" stroke="#000" stroke-width="1.6" stroke-linecap="butt"/>
<line x1="1030.18" y1="1221.21" x2="1037.38" y2="1221.21" stroke="#000" stroke-width="1.6" stroke-linecap="butt"/>
<line x1="1030.18" y1="1300.92" x2="1037.38" y2="1300.92" stroke="#000" stroke-width="1.6" stroke-linecap="butt"/>
<line x1="1027.28" y1="1260.21" x2="1040.28" y2="1260.21" stroke="#000" stroke-width="1.8" stroke-linecap="butt"/>
<circle cx="1033.78" cy="1214.31" r="3.2" fill="#000"/>
<circle cx="1033.78" cy="1252.62" r="3.2" fill="#000"/>
<circle cx="1037.92" cy="1255.03" r="3.2" fill="#000"/>
<circle cx="1029.98" cy="1257.79" r="3.2" fill="#000"/>
<circle cx="1033.78" cy="1324.73" r="3.2" fill="#000"/>
<line x1="1054.13" y1="1237.78" x2="1054.13" y2="1280.91" stroke="#FF0066" stroke-width="1.6" stroke-linecap="butt"/>
<line x1="1050.53" y1="1237.78" x2="1057.73" y2="1237.78" stroke="#FF0066" stroke-width="1.6" stroke-linecap="butt"/>
<line x1="1050.53" y1="1280.91" x2="1057.73" y2="1280.91" stroke="#FF0066" stroke-width="1.6" stroke-linecap="butt"/>
<line x1="1047.63" y1="1259.52" x2="1060.63" y2="1259.52" stroke="#FF0066" stroke-width="1.8" stroke-linecap="butt"/>
<rect x="1050.88" y="1231.08" width="6.5" height="6.5" fill="#FF0066" />
<rect x="1054.68" y="1244.19" width="6.5" height="6.5" fill="#FF0066" />
<rect x="1046.74" y="1246.61" width="6.5" height="6.5" fill="#FF0066" />
<rect x="1050.88" y="1276.97" width="6.5" height="6.5" fill="#FF0066" />
<rect x="1050.88" y="1282.84" width="6.5" height="6.5" fill="#FF0066" />
<text x="1133" y="1009.5" font-size="46" font-weight="bold" text-anchor="start" fill="#000" >g</text>
<line x1="642.1" y1="1078.7" x2="642.1" y2="1366.65" stroke="#000" stroke-width="3.5"/>
<line x1="629.9" y1="1080.3" x2="642.1" y2="1080.3" stroke="#000" stroke-width="3.2"/>
<line x1="629.9" y1="1137.22" x2="642.1" y2="1137.22" stroke="#000" stroke-width="3.2"/>
<line x1="629.9" y1="1194.14" x2="642.1" y2="1194.14" stroke="#000" stroke-width="3.2"/>
<line x1="629.9" y1="1251.06" x2="642.1" y2="1251.06" stroke="#000" stroke-width="3.2"/>
<line x1="629.9" y1="1307.98" x2="642.1" y2="1307.98" stroke="#000" stroke-width="3.2"/>
<line x1="629.9" y1="1364.9" x2="642.1" y2="1364.9" stroke="#000" stroke-width="3.2"/>
<line x1="629.9" y1="1364.9" x2="1070" y2="1364.9" stroke="#000" stroke-width="3.5"/>
<line x1="665.2" y1="1364.9" x2="665.2" y2="1376.9" stroke="#000" stroke-width="3.2"/>
<line x1="719.4" y1="1364.9" x2="719.4" y2="1376.9" stroke="#000" stroke-width="3.2"/>
<line x1="773.2" y1="1364.9" x2="773.2" y2="1376.9" stroke="#000" stroke-width="3.2"/>
<line x1="827.4" y1="1364.9" x2="827.4" y2="1376.9" stroke="#000" stroke-width="3.2"/>
<line x1="880.9" y1="1364.9" x2="880.9" y2="1376.9" stroke="#000" stroke-width="3.2"/>
<line x1="935.4" y1="1364.9" x2="935.4" y2="1376.9" stroke="#000" stroke-width="3.2"/>
<line x1="989.6" y1="1364.9" x2="989.6" y2="1376.9" stroke="#000" stroke-width="3.2"/>
<line x1="1043.8" y1="1364.9" x2="1043.8" y2="1376.9" stroke="#000" stroke-width="3.2"/>
<text x="1206.4" y="1091.28" font-size="22" font-weight="bold" text-anchor="end" fill="#000" >0.3</text>
<text x="1206.4" y="1184.98" font-size="22" font-weight="bold" text-anchor="end" fill="#000" >0.2</text>
<text x="1206.4" y="1278.78" font-size="22" font-weight="bold" text-anchor="end" fill="#000" >0.1</text>
<text x="1206.4" y="1372.48" font-size="22" font-weight="bold" text-anchor="end" fill="#000" >0.0</text>
<path d="M1238.9,1364.6 L1238.9,1222.6 L1263.1,1222.6 L1263.1,1364.6" fill="#fff" stroke="#000" stroke-width="4.4" stroke-linejoin="miter"/>
<path d="M1281.5,1364.6 L1281.5,1170.7 L1305.7,1170.7 L1305.7,1364.6" fill="#fff" stroke="#FF0066" stroke-width="4.4" stroke-linejoin="miter"/>
<path d="M1324.8,1364.6 L1324.8,1262.2 L1348.7,1262.2 L1348.7,1364.6" fill="#fff" stroke="#108080" stroke-width="4.4" stroke-linejoin="miter"/>
<path d="M1367.8,1364.6 L1367.8,1268.5 L1392.1,1268.5 L1392.1,1364.6" fill="#fff" stroke="#3F007D" stroke-width="4.4" stroke-linejoin="miter"/>
<line x1="1250.6" y1="1204.35" x2="1250.6" y2="1232.58" stroke="#000" stroke-width="1.6" stroke-linecap="butt"/>
<line x1="1243.6" y1="1204.35" x2="1257.6" y2="1204.35" stroke="#000" stroke-width="1.6" stroke-linecap="butt"/>
<line x1="1243.6" y1="1232.58" x2="1257.6" y2="1232.58" stroke="#000" stroke-width="1.6" stroke-linecap="butt"/>
<circle cx="1246.39" cy="1207.72" r="3.1" fill="#000"/>
<circle cx="1255.66" cy="1207.72" r="3.1" fill="#000"/>
<circle cx="1250.6" cy="1241.43" r="3.1" fill="#000"/>
<line x1="1293.58" y1="1150.43" x2="1293.58" y2="1186.66" stroke="#FF0066" stroke-width="1.6" stroke-linecap="butt"/>
<line x1="1286.58" y1="1150.43" x2="1300.58" y2="1150.43" stroke="#FF0066" stroke-width="1.6" stroke-linecap="butt"/>
<line x1="1286.58" y1="1186.66" x2="1300.58" y2="1186.66" stroke="#FF0066" stroke-width="1.6" stroke-linecap="butt"/>
<rect x="1290.48" y="1138.9" width="6.2" height="6.2" fill="#FF0066" />
<rect x="1285.42" y="1173.87" width="6.2" height="6.2" fill="#FF0066" />
<rect x="1295.53" y="1173.87" width="6.2" height="6.2" fill="#FF0066" />
<line x1="1336.55" y1="1243.54" x2="1336.55" y2="1275.98" stroke="#108080" stroke-width="1.6" stroke-linecap="butt"/>
<line x1="1329.55" y1="1243.54" x2="1343.55" y2="1243.54" stroke="#108080" stroke-width="1.6" stroke-linecap="butt"/>
<line x1="1329.55" y1="1275.98" x2="1343.55" y2="1275.98" stroke="#108080" stroke-width="1.6" stroke-linecap="butt"/>
<polygon points="1333.6,1242.01 1339.4,1242.01 1336.5,1236.79" fill="#108080"/>
<polygon points="1333.7,1259.21 1339.5,1259.21 1336.6,1253.99" fill="#108080"/>
<polygon points="1328,1276.91 1333.8,1276.91 1330.9,1271.69" fill="#108080"/>
<polygon points="1339.4,1274.71 1345.2,1274.71 1342.3,1269.49" fill="#108080"/>
<line x1="1379.94" y1="1259.97" x2="1379.94" y2="1272.61" stroke="#3F007D" stroke-width="1.6" stroke-linecap="butt"/>
<line x1="1372.94" y1="1259.97" x2="1386.94" y2="1259.97" stroke="#3F007D" stroke-width="1.6" stroke-linecap="butt"/>
<line x1="1372.94" y1="1272.61" x2="1386.94" y2="1272.61" stroke="#3F007D" stroke-width="1.6" stroke-linecap="butt"/>
<polygon points="1371.1,1258.39 1376.9,1258.39 1374,1263.61" fill="#3F007D"/>
<polygon points="1382.5,1258.39 1388.3,1258.39 1385.4,1263.61" fill="#3F007D"/>
<polygon points="1371.1,1270.39 1376.9,1270.39 1374,1275.61" fill="#3F007D"/>
<polygon points="1382.5,1270.39 1388.3,1270.39 1385.4,1275.61" fill="#3F007D"/>
<rect x="1251.8" y="1062.7" width="128.8" height="4.4" fill="#000" />
<text x="1316.7" y="1064.58" font-size="36" font-weight="bold" text-anchor="middle" fill="#000" >*</text>
<rect x="1293.2" y="1093.5" width="87.4" height="4.4" fill="#000" />
<text x="1337" y="1095.38" font-size="36" font-weight="bold" text-anchor="middle" fill="#000" >*</text>
<text x="1164" y="1224" font-size="23" font-weight="bold" text-anchor="middle" transform="rotate(-90 1164 1224)">Protein/1×10<tspan font-size="16.5" dy="-9.5">6</tspan><tspan dy="9.5"> cells (mg)</tspan></text>
<text x="1257.6" y="1394.4" font-size="21.5" font-weight="bold" text-anchor="end" fill="#000" transform="rotate(-45 1257.6 1394.4)" >PBS</text>
<text x="1300.6" y="1394.4" font-size="21.5" font-weight="bold" text-anchor="end" fill="#000" transform="rotate(-45 1300.6 1394.4)" >AC (5mM)</text>
<text x="1343.6" y="1394.4" font-size="21.5" font-weight="bold" text-anchor="end" fill="#000" transform="rotate(-45 1343.6 1394.4)" >PR (2mM)</text>
<text x="1387" y="1394.4" font-size="21.5" font-weight="bold" text-anchor="end" fill="#000" transform="rotate(-45 1387 1394.4)" >PR (5mM)</text>
<line x1="1221.6" y1="1081.8" x2="1221.6" y2="1366.3" stroke="#000" stroke-width="3.4"/>
<line x1="1209.4" y1="1083.4" x2="1221.6" y2="1083.4" stroke="#000" stroke-width="3.2"/>
<line x1="1209.4" y1="1177.1" x2="1221.6" y2="1177.1" stroke="#000" stroke-width="3.2"/>
<line x1="1209.4" y1="1270.9" x2="1221.6" y2="1270.9" stroke="#000" stroke-width="3.2"/>
<line x1="1209.4" y1="1364.6" x2="1221.6" y2="1364.6" stroke="#000" stroke-width="3.2"/>
<line x1="1209.4" y1="1364.6" x2="1409.9" y2="1364.6" stroke="#000" stroke-width="3.4"/>
<line x1="1250.6" y1="1364.6" x2="1250.6" y2="1376.6" stroke="#000" stroke-width="3.2"/>
<line x1="1293.6" y1="1364.6" x2="1293.6" y2="1376.6" stroke="#000" stroke-width="3.2"/>
<line x1="1336.6" y1="1364.6" x2="1336.6" y2="1376.6" stroke="#000" stroke-width="3.2"/>
<line x1="1380" y1="1364.6" x2="1380" y2="1376.6" stroke="#000" stroke-width="3.2"/>
<text x="1531.6" y="1080.68" font-size="22" font-weight="bold" text-anchor="end" fill="#000" >0.18</text>
<text x="1531.6" y="1138.18" font-size="22" font-weight="bold" text-anchor="end" fill="#000" >0.16</text>
<text x="1531.6" y="1195.68" font-size="22" font-weight="bold" text-anchor="end" fill="#000" >0.14</text>
<text x="1531.6" y="1253.18" font-size="22" font-weight="bold" text-anchor="end" fill="#000" >0.12</text>
<text x="1531.6" y="1310.68" font-size="22" font-weight="bold" text-anchor="end" fill="#000" >0.10</text>
<text x="1531.6" y="1368.18" font-size="22" font-weight="bold" text-anchor="end" fill="#000" >0.08</text>
<text x="1476.5" y="1216" font-size="23.85" font-weight="bold" text-anchor="middle" fill="#000" transform="rotate(-90 1476.5 1216)" >Protein per well (mg)</text>
<path d="M1563.3,1360.3 L1563.3,1161.5 L1588.4,1161.5 L1588.4,1360.3" fill="#fff" stroke="#000" stroke-width="4.4" stroke-linejoin="miter"/>
<path d="M1607.5,1360.3 L1607.5,1200.2 L1632.6,1200.2 L1632.6,1360.3" fill="#fff" stroke="#FF0066" stroke-width="4.4" stroke-linejoin="miter"/>
<path d="M1652.2,1360.3 L1652.2,1229.7 L1677.3,1229.7 L1677.3,1360.3" fill="#fff" stroke="#108080" stroke-width="4.4" stroke-linejoin="miter"/>
<path d="M1696.4,1360.3 L1696.4,1276.1 L1721.5,1276.1 L1721.5,1360.3" fill="#fff" stroke="#3F007D" stroke-width="4.4" stroke-linejoin="miter"/>
<line x1="1575.85" y1="1136.1" x2="1575.85" y2="1182.03" stroke="#000" stroke-width="1.6" stroke-linecap="butt"/>
<line x1="1568.85" y1="1136.1" x2="1582.85" y2="1136.1" stroke="#000" stroke-width="1.6" stroke-linecap="butt"/>
<line x1="1568.85" y1="1182.03" x2="1582.85" y2="1182.03" stroke="#000" stroke-width="1.6" stroke-linecap="butt"/>
<circle cx="1575.85" cy="1127.26" r="3.1" fill="#000"/>
<circle cx="1570.79" cy="1155.9" r="3.1" fill="#000"/>
<circle cx="1581.32" cy="1152.96" r="3.1" fill="#000"/>
<circle cx="1570.79" cy="1166.44" r="3.1" fill="#000"/>
<circle cx="1581.32" cy="1166.44" r="3.1" fill="#000"/>
<circle cx="1575.85" cy="1190.87" r="3.1" fill="#000"/>
<line x1="1620.08" y1="1174.02" x2="1620.08" y2="1219.1" stroke="#FF0066" stroke-width="1.6" stroke-linecap="butt"/>
<line x1="1613.08" y1="1174.02" x2="1627.08" y2="1174.02" stroke="#FF0066" stroke-width="1.6" stroke-linecap="butt"/>
<line x1="1613.08" y1="1219.1" x2="1627.08" y2="1219.1" stroke="#FF0066" stroke-width="1.6" stroke-linecap="butt"/>
<polygon points="1617.18,1149.08 1622.98,1149.08 1620.08,1154.3" fill="#FF0066"/>
<polygon points="1611.29,1169.3 1617.09,1169.3 1614.19,1174.52" fill="#FF0066"/>
<polygon points="1622.66,1168.04 1628.46,1168.04 1625.56,1173.26" fill="#FF0066"/>
<polygon points="1617.18,1180.68 1622.98,1180.68 1620.08,1185.9" fill="#FF0066"/>
<polygon points="1617.18,1193.32 1622.98,1193.32 1620.08,1198.54" fill="#FF0066"/>
<polygon points="1612.13,1201.74 1617.93,1201.74 1615.03,1206.96" fill="#FF0066"/>
<polygon points="1621.82,1201.74 1627.62,1201.74 1624.72,1206.96" fill="#FF0066"/>
<polygon points="1612.13,1212.28 1617.93,1212.28 1615.03,1217.5" fill="#FF0066"/>
<polygon points="1621.82,1212.28 1627.62,1212.28 1624.72,1217.5" fill="#FF0066"/>
<polygon points="1617.18,1222.81 1622.98,1222.81 1620.08,1228.03" fill="#FF0066"/>
<line x1="1664.32" y1="1211.52" x2="1664.32" y2="1241.43" stroke="#108080" stroke-width="1.6" stroke-linecap="butt"/>
<line x1="1657.32" y1="1211.52" x2="1671.32" y2="1211.52" stroke="#108080" stroke-width="1.6" stroke-linecap="butt"/>
<line x1="1657.32" y1="1241.43" x2="1671.32" y2="1241.43" stroke="#108080" stroke-width="1.6" stroke-linecap="butt"/>
<rect x="1661.22" y="1196.2" width="6.2" height="6.2" fill="#108080" />
<rect x="1661.22" y="1226.53" width="6.2" height="6.2" fill="#108080" />
<rect x="1666.7" y="1232.85" width="6.2" height="6.2" fill="#108080" />
<rect x="1656.17" y="1238.33" width="6.2" height="6.2" fill="#108080" />
<line x1="1708.98" y1="1241.43" x2="1708.98" y2="1305.47" stroke="#3F007D" stroke-width="1.6" stroke-linecap="butt"/>
<line x1="1701.98" y1="1241.43" x2="1715.98" y2="1241.43" stroke="#3F007D" stroke-width="1.6" stroke-linecap="butt"/>
<line x1="1701.98" y1="1305.47" x2="1715.98" y2="1305.47" stroke="#3F007D" stroke-width="1.6" stroke-linecap="butt"/>
<polygon points="1706.08,1212.44 1711.88,1212.44 1708.98,1207.22" fill="#3F007D"/>
<polygon points="1700.6,1250.36 1706.4,1250.36 1703.5,1245.14" fill="#3F007D"/>
<polygon points="1711.13,1249.09 1716.93,1249.09 1714.03,1243.87" fill="#3F007D"/>
<polygon points="1700.6,1265.1 1706.4,1265.1 1703.5,1259.88" fill="#3F007D"/>
<polygon points="1711.13,1263.84 1716.93,1263.84 1714.03,1258.62" fill="#3F007D"/>
<polygon points="1700.6,1276.48 1706.4,1276.48 1703.5,1271.26" fill="#3F007D"/>
<polygon points="1711.13,1276.48 1716.93,1276.48 1714.03,1271.26" fill="#3F007D"/>
<polygon points="1706.08,1287.01 1711.88,1287.01 1708.98,1281.79" fill="#3F007D"/>
<polygon points="1700.6,1298.81 1706.4,1298.81 1703.5,1293.59" fill="#3F007D"/>
<polygon points="1711.13,1297.54 1716.93,1297.54 1714.03,1292.32" fill="#3F007D"/>
<polygon points="1706.08,1334.62 1711.88,1334.62 1708.98,1329.4" fill="#3F007D"/>
<rect x="1575.8" y="1076.6" width="134.9" height="4.4" fill="#000" />
<text x="1644.7" y="1080.48" font-size="36" font-weight="bold" text-anchor="middle" fill="#000" letter-spacing="2">***</text>
<rect x="1619.2" y="1112.4" width="92.3" height="4.4" fill="#000" />
<text x="1667.4" y="1116.28" font-size="36" font-weight="bold" text-anchor="middle" fill="#000" letter-spacing="2">***</text>
<rect x="1664.7" y="1148.7" width="46.8" height="4.4" fill="#000" />
<text x="1689.8" y="1152.58" font-size="36" font-weight="bold" text-anchor="middle" fill="#000" letter-spacing="2">**</text>
<text x="1581.8" y="1391.8" font-size="21.5" font-weight="bold" text-anchor="end" fill="#000" transform="rotate(-45 1581.8 1391.8)" >PBS</text>
<text x="1626.1" y="1391.8" font-size="21.5" font-weight="bold" text-anchor="end" fill="#000" transform="rotate(-45 1626.1 1391.8)" >AC (5mM)</text>
<text x="1670.3" y="1391.8" font-size="21.5" font-weight="bold" text-anchor="end" fill="#000" transform="rotate(-45 1670.3 1391.8)" >PR (2mM)</text>
<text x="1715" y="1391.8" font-size="21.5" font-weight="bold" text-anchor="end" fill="#000" transform="rotate(-45 1715 1391.8)" >PR (5mM)</text>
<text x="21" y="1604.6" font-size="47" font-weight="bold" text-anchor="start" fill="#000" >h</text>
<text x="355" y="1655" font-size="26.4" text-anchor="middle" fill="#000" >AC (mM)</text>
<text x="791" y="1655.5" font-size="26.4" text-anchor="middle" fill="#000" >PR (mM)</text>
<line x1="118.2" y1="1669.8" x2="499" y2="1667.6" stroke="#000" stroke-width="2.8"/>
<line x1="577.3" y1="1669.2" x2="969.6" y2="1667" stroke="#000" stroke-width="2.8"/>
<text x="120.9" y="1701.6" font-size="24" text-anchor="middle" fill="#000" >0</text>
<text x="188.7" y="1701.6" font-size="24" text-anchor="middle" fill="#000" >1</text>
<text x="280.1" y="1701.6" font-size="24" text-anchor="middle" fill="#000" >2</text>
<text x="355.7" y="1701.6" font-size="24" text-anchor="middle" fill="#000" >3</text>
<text x="432" y="1701.6" font-size="24" text-anchor="middle" fill="#000" >4</text>
<text x="499.8" y="1701.6" font-size="24" text-anchor="middle" fill="#000" >5</text>
<text x="582.3" y="1701.6" font-size="24" text-anchor="middle" fill="#000" >0</text>
<text x="657.6" y="1701.6" font-size="24" text-anchor="middle" fill="#000" >1</text>
<text x="733.7" y="1701.6" font-size="24" text-anchor="middle" fill="#000" >2</text>
<text x="809" y="1701.6" font-size="24" text-anchor="middle" fill="#000" >3</text>
<text x="892.6" y="1701.6" font-size="24" text-anchor="middle" fill="#000" >4</text>
<text x="968.3" y="1701.6" font-size="24" text-anchor="middle" fill="#000" >5</text>
<text x="8.5" y="1763.4" font-size="23.2" text-anchor="start" fill="#000" >15KDa</text>
<text x="8.5" y="1830" font-size="23.2" text-anchor="start" fill="#000" >15KDa</text>
<text x="7" y="1914.5" font-size="23.2" text-anchor="start" fill="#000" >37KDa</text>
<text x="1038.3" y="1756.8" font-size="26.6" text-anchor="start" fill="#000" >Anti-H2BK17pr</text>
<text x="1038.3" y="1830.4" font-size="26.6" text-anchor="start" fill="#000" >Anti-H2B</text>
<text x="1038.3" y="1903.7" font-size="26.6" text-anchor="start" fill="#000" >Anti-ACTB</text>
<clipPath id="cp1"><rect x="86.2" y="1713.3" width="941.8" height="67.3"/></clipPath>
<rect x="86.2" y="1713.3" width="941.8" height="67.3" fill="#e2e2e2" />
<g clip-path="url(#cp1)">
<g filter="url(#b2)">
<rect x="92.5" y="1754.15" width="59" height="12.5" rx="20.06" ry="6.25" fill="#888" transform="rotate(2 122 1760.4)"/>
<rect x="170.8" y="1750.75" width="61" height="13.5" rx="20.74" ry="6.75" fill="#6c6c6c" transform="rotate(-5 201.3 1757.5)"/>
<rect x="252.9" y="1746.15" width="59" height="13.5" rx="20.06" ry="6.75" fill="#757575" transform="rotate(-1 282.4 1752.9)"/>
<rect x="329.5" y="1744.45" width="58" height="14.5" rx="19.72" ry="7.25" fill="#686868"/>
<rect x="404.5" y="1743.8" width="54" height="13" rx="18.36" ry="6.5" fill="#7c7c7c" transform="rotate(-2 431.5 1750.3)"/>
<rect x="480.5" y="1743.8" width="53" height="10" rx="18.02" ry="5" fill="#a9a9a9"/>
<rect x="554.1" y="1741.75" width="57" height="11.5" rx="19.38" ry="5.75" fill="#929292" transform="rotate(-2 582.6 1747.5)"/>
<rect x="630.3" y="1740.25" width="57" height="12.5" rx="19.38" ry="6.25" fill="#7e7e7e" transform="rotate(-2 658.8 1746.5)"/>
<rect x="704.5" y="1737.75" width="61" height="14.5" rx="20.74" ry="7.25" fill="#6e6e6e" transform="rotate(-2 735 1745)"/>
</g><g filter="url(#b2)">
<rect x="775" y="1731" width="72" height="21" rx="24.48" ry="10.5" fill="#9a9a9a" transform="rotate(2 811 1741.5)"/>
<rect x="777.5" y="1733" width="67" height="17" rx="22.78" ry="8.5" fill="#1c1c1c" transform="rotate(2 811 1741.5)"/>
<rect x="854.4" y="1732.25" width="74" height="21.5" rx="25.16" ry="10.75" fill="#9a9a9a"/>
<rect x="856.9" y="1734.25" width="69" height="17.5" rx="23.46" ry="8.75" fill="#141414"/>
<rect x="933.6" y="1731.25" width="76" height="22.5" rx="25.84" ry="11.25" fill="#9a9a9a"/>
<rect x="936.1" y="1733.25" width="71" height="18.5" rx="24.14" ry="9.25" fill="#0e0e0e"/>
</g>
</g>
<clipPath id="cp2"><rect x="86.2" y="1789.5" width="941.8" height="58.8"/></clipPath>
<rect x="86.2" y="1789.5" width="941.8" height="58.8" fill="#dedede" />
<g clip-path="url(#cp2)">
<g filter="url(#b3)">
<rect x="76.2" y="1800" width="961.8" height="36" fill="#c4c4c4" />
</g><g filter="url(#b2)">
<rect x="81.2" y="1813" width="935.8" height="13" fill="#303030" />
<rect x="83.8" y="1815" width="84" height="27" rx="21.84" ry="13.5" fill="#060606"/>
<rect x="164.9" y="1810.5" width="83" height="27" rx="21.58" ry="13.5" fill="#060606" transform="rotate(-3 206.4 1824)"/>
<rect x="247.8" y="1807.1" width="77" height="27" rx="20.02" ry="13.5" fill="#060606"/>
<rect x="326.5" y="1806.2" width="75" height="27" rx="19.5" ry="13.5" fill="#060606"/>
<rect x="401.5" y="1805.6" width="73" height="27" rx="18.98" ry="13.5" fill="#060606"/>
<rect x="474.5" y="1804.2" width="77" height="27" rx="20.02" ry="13.5" fill="#060606"/>
<rect x="549.5" y="1804" width="77" height="27" rx="20.02" ry="13.5" fill="#060606"/>
<rect x="622.5" y="1804" width="77" height="27" rx="20.02" ry="13.5" fill="#060606"/>
<rect x="696.5" y="1804" width="79" height="27" rx="20.54" ry="13.5" fill="#060606"/>
<rect x="771.5" y="1803" width="81" height="27" rx="21.06" ry="13.5" fill="#060606"/>
<rect x="851.5" y="1804" width="81" height="27" rx="21.06" ry="13.5" fill="#060606"/>
<rect x="928.5" y="1803" width="87" height="27" rx="22.62" ry="13.5" fill="#060606"/>
</g>
<rect x="86.2" y="1826" width="1.6" height="22" fill="#555" />
</g>
<clipPath id="cp3"><rect x="86.2" y="1856.3" width="941.8" height="67.6"/></clipPath>
<rect x="86.2" y="1856.3" width="941.8" height="67.6" fill="#e2e2e2" />
<g clip-path="url(#cp3)">
<g filter="url(#b1)">
<path d="M99,1862.5 L112,1867 L135,1871.5 L160,1874 L178,1873.5 L200,1875.5 L240,1876 L257,1874 L280,1877 L320,1877 L333,1874.5 L355,1877.5 L390,1878 L406,1875 L430,1878 L470,1878.5 L481,1877 L520,1880 L560,1881 L600,1880 L630,1878 L670,1881 L702,1879 L740,1882 L782,1880 L820,1882 L860,1880 L900,1881 L939,1878 L965,1876 L990,1871 L1005,1866 L1013,1863.5 Q1017,1870 1012,1880  C999.68,1898 992.75,1899 985.47,1899.5 L960.53,1899.5 C953.95,1899 945.63,1897 938.7,1890 C929.32,1904 921.5,1905 915.68,1905.5 L887.52,1905.5 C877.7,1905 868.32,1903 860.5,1891.4 C851.12,1905 843.3,1906 837.48,1906.5 L809.32,1906.5 C799.5,1906 790.12,1904 782.3,1891.4 C772.66,1905 764.63,1906 759.45,1906.5 L730.55,1906.5 C719.67,1906 710.03,1904 702,1891.4 C693.12,1905 685.72,1906 682.32,1906.5 L655.68,1906.5 C644.28,1906 635.4,1904 628,1891.4 C619.24,1905 611.94,1906 606.14,1906.5 L579.86,1906.5 C571.06,1906 562.3,1904 555,1890 C546.29,1906 539.03,1907 529.07,1907.5 L502.93,1907.5 C498.37,1907 489.66,1905 482.4,1889.5 C473.34,1904.5 465.79,1905.5 456.59,1906 L429.41,1906 C423.51,1905.5 414.45,1903.5 406.9,1889 C398.18,1904.5 390.91,1905.5 380.79,1906 L354.61,1906 C350.19,1905.5 341.47,1903.5 334.2,1889 C325.14,1903.5 317.59,1904.5 308.59,1905 L281.41,1905 C275.31,1904.5 266.25,1902.5 258.7,1889 C249.29,1903 241.45,1904 233.61,1904.5 L205.39,1904.5 C197.55,1904 188.14,1902 180.3,1889 C171.14,1900.5 163.51,1901.5 160.73,1902 L133.27,1902 C118,1899.5 100,1882 96,1866 Z" fill="#000"/>
</g>
</g>
<text x="1151.5" y="1603.2" font-size="46" font-weight="bold" text-anchor="start" fill="#000" >i</text>
<path d="M1487,1591 Q1493,1593.2 1499.5,1591" stroke="#000" stroke-width="1.4" fill="none"/>
<line x1="1546.8" y1="1071.2" x2="1546.8" y2="1362" stroke="#000" stroke-width="3.4"/>
<line x1="1534.6" y1="1072.8" x2="1546.8" y2="1072.8" stroke="#000" stroke-width="3.2"/>
<line x1="1534.6" y1="1130.3" x2="1546.8" y2="1130.3" stroke="#000" stroke-width="3.2"/>
<line x1="1534.6" y1="1187.8" x2="1546.8" y2="1187.8" stroke="#000" stroke-width="3.2"/>
<line x1="1534.6" y1="1245.3" x2="1546.8" y2="1245.3" stroke="#000" stroke-width="3.2"/>
<line x1="1534.6" y1="1302.8" x2="1546.8" y2="1302.8" stroke="#000" stroke-width="3.2"/>
<line x1="1534.6" y1="1360.3" x2="1546.8" y2="1360.3" stroke="#000" stroke-width="3.2"/>
<line x1="1534.6" y1="1360.3" x2="1739.3" y2="1360.3" stroke="#000" stroke-width="3.4"/>
<line x1="1575.8" y1="1360.3" x2="1575.8" y2="1372.3" stroke="#000" stroke-width="3.2"/>
<line x1="1620.1" y1="1360.3" x2="1620.1" y2="1372.3" stroke="#000" stroke-width="3.2"/>
<line x1="1664.3" y1="1360.3" x2="1664.3" y2="1372.3" stroke="#000" stroke-width="3.2"/>
<line x1="1709" y1="1360.3" x2="1709" y2="1372.3" stroke="#000" stroke-width="3.2"/>
<text x="1318.8" y="1637.35" font-size="25" font-weight="bold" text-anchor="end" fill="#000" >0.25</text>
<text x="1318.8" y="1701.65" font-size="25" font-weight="bold" text-anchor="end" fill="#000" >0.20</text>
<text x="1318.8" y="1765.95" font-size="25" font-weight="bold" text-anchor="end" fill="#000" >0.15</text>
<text x="1318.8" y="1830.25" font-size="25" font-weight="bold" text-anchor="end" fill="#000" >0.10</text>
<text x="1318.8" y="1894.55" font-size="25" font-weight="bold" text-anchor="end" fill="#000" >0.05</text>
<text x="1318.8" y="1958.85" font-size="25" font-weight="bold" text-anchor="end" fill="#000" >0.00</text>
<text x="1256" y="1788.8" font-size="26.75" font-weight="bold" text-anchor="middle" fill="#000" transform="rotate(-90 1256 1788.8)" >Protein (mg)</text>
<path d="M1353.5,1949.9 L1353.5,1779.9 L1379.5,1779.9 L1379.5,1949.9" fill="#fff" stroke="#000" stroke-width="5" stroke-linejoin="miter"/>
<path d="M1399.4,1949.9 L1399.4,1796.3 L1425,1796.3 L1425,1949.9" fill="#fff" stroke="#052D40" stroke-width="5" stroke-linejoin="miter"/>
<path d="M1444.9,1949.9 L1444.9,1820.5 L1470.8,1820.5 L1470.8,1949.9" fill="#fff" stroke="#755820" stroke-width="5" stroke-linejoin="miter"/>
<path d="M1521.3,1949.9 L1521.3,1686.7 L1547.3,1686.7 L1547.3,1949.9" fill="#fff" stroke="#000" stroke-width="5" stroke-linejoin="miter"/>
<path d="M1567.2,1949.9 L1567.2,1698.6 L1593.5,1698.6 L1593.5,1949.9" fill="#fff" stroke="#052D40" stroke-width="5" stroke-linejoin="miter"/>
<path d="M1613.4,1949.9 L1613.4,1739.6 L1639.4,1739.6 L1639.4,1949.9" fill="#fff" stroke="#755820" stroke-width="5" stroke-linejoin="miter"/>
<line x1="1366.31" y1="1767.7" x2="1366.31" y2="1785.59" stroke="#000" stroke-width="1.7" stroke-linecap="butt"/>
<line x1="1358.81" y1="1767.7" x2="1373.81" y2="1767.7" stroke="#000" stroke-width="1.7" stroke-linecap="butt"/>
<line x1="1358.81" y1="1785.59" x2="1373.81" y2="1785.59" stroke="#000" stroke-width="1.7" stroke-linecap="butt"/>
<circle cx="1366.31" cy="1764.34" r="3.4" fill="#333"/>
<circle cx="1361.09" cy="1782.61" r="3.4" fill="#333"/>
<circle cx="1366.31" cy="1778.14" r="3.4" fill="#333"/>
<circle cx="1371.53" cy="1782.61" r="3.4" fill="#333"/>
<line x1="1412.17" y1="1788.2" x2="1412.17" y2="1798.65" stroke="#052D40" stroke-width="1.7" stroke-linecap="butt"/>
<line x1="1404.67" y1="1788.2" x2="1419.67" y2="1788.2" stroke="#052D40" stroke-width="1.7" stroke-linecap="butt"/>
<line x1="1404.67" y1="1798.65" x2="1419.67" y2="1798.65" stroke="#052D40" stroke-width="1.7" stroke-linecap="butt"/>
<rect x="1402.8" y="1788.53" width="6.8" height="6.8" fill="#1E6699" />
<rect x="1414.74" y="1785.92" width="6.8" height="6.8" fill="#1E6699" />
<rect x="1402.8" y="1795.25" width="6.8" height="6.8" fill="#1E6699" />
<rect x="1414.74" y="1791.52" width="6.8" height="6.8" fill="#1E6699" />
<line x1="1458.04" y1="1803.49" x2="1458.04" y2="1832.95" stroke="#755820" stroke-width="1.7" stroke-linecap="butt"/>
<line x1="1450.54" y1="1803.49" x2="1465.54" y2="1803.49" stroke="#755820" stroke-width="1.7" stroke-linecap="butt"/>
<line x1="1450.54" y1="1832.95" x2="1465.54" y2="1832.95" stroke="#755820" stroke-width="1.7" stroke-linecap="butt"/>
<polygon points="1447.95,1809.48 1455.45,1809.48 1451.7,1802.73" fill="#FDD24F"/>
<polygon points="1461,1808.36 1468.5,1808.36 1464.75,1801.61" fill="#FDD24F"/>
<polygon points="1454.29,1826.26 1461.79,1826.26 1458.04,1819.51" fill="#FDD24F"/>
<polygon points="1454.29,1839.31 1461.79,1839.31 1458.04,1832.56" fill="#FDD24F"/>
<line x1="1534.1" y1="1658.81" x2="1534.1" y2="1709.15" stroke="#000" stroke-width="1.7" stroke-linecap="butt"/>
<line x1="1526.6" y1="1658.81" x2="1541.6" y2="1658.81" stroke="#000" stroke-width="1.7" stroke-linecap="butt"/>
<line x1="1526.6" y1="1709.15" x2="1541.6" y2="1709.15" stroke="#000" stroke-width="1.7" stroke-linecap="butt"/>
<circle cx="1534.1" cy="1651.36" r="3.4" fill="#333"/>
<circle cx="1534.1" cy="1679.32" r="3.4" fill="#333"/>
<circle cx="1534.1" cy="1691.63" r="3.4" fill="#333"/>
<circle cx="1534.1" cy="1712.14" r="3.4" fill="#333"/>
<line x1="1580.34" y1="1678.2" x2="1580.34" y2="1714" stroke="#052D40" stroke-width="1.7" stroke-linecap="butt"/>
<line x1="1572.84" y1="1678.2" x2="1587.84" y2="1678.2" stroke="#052D40" stroke-width="1.7" stroke-linecap="butt"/>
<line x1="1572.84" y1="1714" x2="1587.84" y2="1714" stroke="#052D40" stroke-width="1.7" stroke-linecap="butt"/>
<rect x="1576.94" y="1665.85" width="6.8" height="6.8" fill="#1E6699" />
<rect x="1576.94" y="1695.31" width="6.8" height="6.8" fill="#1E6699" />
<rect x="1570.6" y="1706.87" width="6.8" height="6.8" fill="#1E6699" />
<rect x="1583.28" y="1703.14" width="6.8" height="6.8" fill="#1E6699" />
<line x1="1626.21" y1="1711.76" x2="1626.21" y2="1762.48" stroke="#755820" stroke-width="1.7" stroke-linecap="butt"/>
<line x1="1618.71" y1="1711.76" x2="1633.71" y2="1711.76" stroke="#755820" stroke-width="1.7" stroke-linecap="butt"/>
<line x1="1618.71" y1="1762.48" x2="1633.71" y2="1762.48" stroke="#755820" stroke-width="1.7" stroke-linecap="butt"/>
<polygon points="1622.46,1717 1629.96,1717 1626.21,1710.25" fill="#FDD24F"/>
<polygon points="1622.46,1726.7 1629.96,1726.7 1626.21,1719.95" fill="#FDD24F"/>
<polygon points="1622.46,1742.36 1629.96,1742.36 1626.21,1735.61" fill="#FDD24F"/>
<polygon points="1622.46,1776.66 1629.96,1776.66 1626.21,1769.91" fill="#FDD24F"/>
<rect x="1369.7" y="1737.6" width="91.1" height="5" fill="#000" />
<text x="1415.5" y="1740.64" font-size="38" font-weight="bold" text-anchor="middle" fill="#000" >*</text>
<rect x="1411.2" y="1778.5" width="49.6" height="5" fill="#000" />
<text x="1436.8" y="1781.54" font-size="38" font-weight="bold" text-anchor="middle" fill="#000" >*</text>
<rect x="1538.6" y="1625.7" width="92.1" height="5" fill="#000" />
<text x="1585.2" y="1628.74" font-size="38" font-weight="bold" text-anchor="middle" fill="#000" >*</text>
<rect x="1581" y="1660" width="49.7" height="5" fill="#000" />
<text x="1606.4" y="1663.04" font-size="38" font-weight="bold" text-anchor="middle" fill="#000" >*</text>
<rect x="1712.5" y="1626.5" width="29.9" height="13" fill="#333" stroke="#000" stroke-width="5" />
<text x="1765.4" y="1643.6" font-size="25.9" text-anchor="start" fill="#000" >PBS</text>
<rect x="1712.5" y="1670.8" width="29.9" height="12.7" fill="#1F6497" stroke="#052D40" stroke-width="5" />
<text x="1764.4" y="1687.7" font-size="26.8" text-anchor="start" fill="#000" >AC</text>
<rect x="1712.5" y="1714.8" width="29.9" height="12.6" fill="#FDD24F" stroke="#755820" stroke-width="5" />
<text x="1765.2" y="1731.6" font-size="26.8" text-anchor="start" fill="#000" >PR</text>
<text x="1420" y="1982" font-size="24.5" font-weight="bold" text-anchor="end" fill="#000" transform="rotate(-45 1420 1982)" >Protein/well cells</text>
<text x="1587" y="1981" font-size="24.5" font-weight="bold" text-anchor="end" transform="rotate(-45 1587 1981)">Protein/1X10<tspan font-size="16" dy="-10" font-weight="normal">6</tspan><tspan dy="10" dx="-2.5"> cells</tspan></text>
<text x="24" y="2095" font-size="46" font-weight="bold" text-anchor="start" fill="#000" >j</text>
<line x1="1335.7" y1="1626.6" x2="1335.7" y2="1951.85" stroke="#000" stroke-width="3.9"/>
<line x1="1322" y1="1628.4" x2="1335.7" y2="1628.4" stroke="#000" stroke-width="3.6"/>
<line x1="1322" y1="1692.7" x2="1335.7" y2="1692.7" stroke="#000" stroke-width="3.6"/>
<line x1="1322" y1="1757" x2="1335.7" y2="1757" stroke="#000" stroke-width="3.6"/>
<line x1="1322" y1="1821.3" x2="1335.7" y2="1821.3" stroke="#000" stroke-width="3.6"/>
<line x1="1322" y1="1885.6" x2="1335.7" y2="1885.6" stroke="#000" stroke-width="3.6"/>
<line x1="1322" y1="1949.9" x2="1335.7" y2="1949.9" stroke="#000" stroke-width="3.6"/>
<line x1="1322" y1="1949.9" x2="1658.6" y2="1949.9" stroke="#000" stroke-width="3.8"/>
<line x1="1411.8" y1="1949.9" x2="1411.8" y2="1962.9" stroke="#000" stroke-width="3.6"/>
<line x1="1579.6" y1="1949.9" x2="1579.6" y2="1962.9" stroke="#000" stroke-width="3.6"/>
<text x="134.7" y="2128.91" font-size="23.5" font-weight="bold" text-anchor="end" fill="#000" >1.5</text>
<text x="134.7" y="2230.81" font-size="23.5" font-weight="bold" text-anchor="end" fill="#000" >1.0</text>
<text x="134.7" y="2332.71" font-size="23.5" font-weight="bold" text-anchor="end" fill="#000" >0.5</text>
<text x="134.7" y="2434.61" font-size="23.5" font-weight="bold" text-anchor="end" fill="#000" >0.0</text>
<text x="87.5" y="2273.7" font-size="25.2" font-weight="bold" text-anchor="middle" fill="#000" transform="rotate(-90 87.5 2273.7)" >Relavtive protein level</text>
<text x="262.7" y="2464.2" font-size="22.8" font-weight="bold" text-anchor="middle" fill="#000" >U2OS</text>
<text x="498.6" y="2464.2" font-size="22.8" font-weight="bold" text-anchor="middle" fill="#000" >HEK293</text>
<path d="M165.9,2426.2 L165.9,2225.13 L185.1,2225.13 L185.1,2426.2" fill="#fff" stroke="#000" stroke-width="4.8" stroke-linejoin="miter"/>
<circle cx="169.31" cy="2222.73" r="3.3" fill="#000"/>
<circle cx="175.13" cy="2222.73" r="3.3" fill="#000"/>
<circle cx="180.94" cy="2222.73" r="3.3" fill="#000"/>
<path d="M200.77,2426.2 L200.77,2219.32 L219.97,2219.32 L219.97,2426.2" fill="#fff" stroke="#4E3F2E" stroke-width="4.8" stroke-linejoin="miter"/>
<line x1="210.37" y1="2197.54" x2="210.37" y2="2237.06" stroke="#4E3F2E" stroke-width="1.6" stroke-linecap="butt"/>
<line x1="204.37" y1="2197.54" x2="216.37" y2="2197.54" stroke="#4E3F2E" stroke-width="1.6" stroke-linecap="butt"/>
<line x1="204.37" y1="2237.06" x2="216.37" y2="2237.06" stroke="#4E3F2E" stroke-width="1.6" stroke-linecap="butt"/>
<rect x="206.7" y="2195.02" width="6.6" height="6.6" fill="#E9A55A" />
<rect x="206.7" y="2211.68" width="6.6" height="6.6" fill="#E9A55A" />
<rect x="206.7" y="2233.76" width="6.6" height="6.6" fill="#E9A55A" />
<path d="M236.03,2426.2 L236.03,2225.9 L255.23,2225.9 L255.23,2426.2" fill="#fff" stroke="#22426F" stroke-width="4.8" stroke-linejoin="miter"/>
<line x1="245.63" y1="2207.23" x2="245.63" y2="2239" stroke="#22426F" stroke-width="1.6" stroke-linecap="butt"/>
<line x1="239.63" y1="2207.23" x2="251.63" y2="2207.23" stroke="#22426F" stroke-width="1.6" stroke-linecap="butt"/>
<line x1="239.63" y1="2239" x2="251.63" y2="2239" stroke="#22426F" stroke-width="1.6" stroke-linecap="butt"/>
<polygon points="242.53,2209.6 249.53,2209.6 246.03,2203.3" fill="#9DB4D6"/>
<polygon points="233.62,2236.34 240.62,2236.34 237.12,2230.04" fill="#9DB4D6"/>
<polygon points="251.05,2232.46 258.05,2232.46 254.55,2226.16" fill="#9DB4D6"/>
<path d="M271.68,2426.2 L271.68,2249.15 L290.88,2249.15 L290.88,2426.2" fill="#fff" stroke="#B6312F" stroke-width="4.8" stroke-linejoin="miter"/>
<line x1="281.28" y1="2230.48" x2="281.28" y2="2262.25" stroke="#B6312F" stroke-width="1.6" stroke-linecap="butt"/>
<line x1="275.28" y1="2230.48" x2="287.28" y2="2230.48" stroke="#B6312F" stroke-width="1.6" stroke-linecap="butt"/>
<line x1="275.28" y1="2262.25" x2="287.28" y2="2262.25" stroke="#B6312F" stroke-width="1.6" stroke-linecap="butt"/>
<polygon points="277.4,2229.26 284.4,2229.26 280.9,2235.56" fill="#E58A83"/>
<polygon points="277.4,2239.34 284.4,2239.34 280.9,2245.64" fill="#E58A83"/>
<polygon points="277.4,2260.65 284.4,2260.65 280.9,2266.95" fill="#E58A83"/>
<path d="M307.32,2426.2 L307.32,2229.78 L326.52,2229.78 L326.52,2426.2" fill="#fff" stroke="#858279" stroke-width="4.8" stroke-linejoin="miter"/>
<line x1="316.92" y1="2203.36" x2="316.92" y2="2249.85" stroke="#858279" stroke-width="1.6" stroke-linecap="butt"/>
<line x1="310.92" y1="2203.36" x2="322.92" y2="2203.36" stroke="#858279" stroke-width="1.6" stroke-linecap="butt"/>
<line x1="310.92" y1="2249.85" x2="322.92" y2="2249.85" stroke="#858279" stroke-width="1.6" stroke-linecap="butt"/>
<polygon points="316.54,2206.24 320.24,2209.94 316.54,2213.64 312.84,2209.94" fill="#C0C4C6"/>
<polygon points="316.54,2214.38 320.24,2218.08 316.54,2221.78 312.84,2218.08" fill="#C0C4C6"/>
<polygon points="316.54,2248.86 320.24,2252.56 316.54,2256.26 312.84,2252.56" fill="#C0C4C6"/>
<path d="M342.19,2426.2 L342.19,2238.69 L361.39,2238.69 L361.39,2426.2" fill="#fff" stroke="#6E5043" stroke-width="4.8" stroke-linejoin="miter"/>
<line x1="351.79" y1="2198.71" x2="351.79" y2="2271.16" stroke="#6E5043" stroke-width="1.6" stroke-linecap="butt"/>
<line x1="345.79" y1="2198.71" x2="357.79" y2="2198.71" stroke="#6E5043" stroke-width="1.6" stroke-linecap="butt"/>
<line x1="345.79" y1="2271.16" x2="357.79" y2="2271.16" stroke="#6E5043" stroke-width="1.6" stroke-linecap="butt"/>
<circle cx="351.8" cy="2198.71" r="3.4" fill="#F7D0C8" stroke="#6E5043" stroke-width="3"/>
<circle cx="351.8" cy="2240.16" r="3.4" fill="#F7D0C8" stroke="#6E5043" stroke-width="3"/>
<circle cx="351.8" cy="2270.38" r="3.4" fill="#F7D0C8" stroke="#6E5043" stroke-width="3"/>
<path d="M401.47,2426.2 L401.47,2225.13 L420.67,2225.13 L420.67,2426.2" fill="#fff" stroke="#000" stroke-width="4.8" stroke-linejoin="miter"/>
<circle cx="404.88" cy="2222.73" r="3.3" fill="#000"/>
<circle cx="410.69" cy="2222.73" r="3.3" fill="#000"/>
<circle cx="416.51" cy="2222.73" r="3.3" fill="#000"/>
<path d="M436.34,2426.2 L436.34,2214.28 L455.54,2214.28 L455.54,2426.2" fill="#fff" stroke="#4E3F2E" stroke-width="4.8" stroke-linejoin="miter"/>
<line x1="445.94" y1="2181.27" x2="445.94" y2="2240.94" stroke="#4E3F2E" stroke-width="1.6" stroke-linecap="butt"/>
<line x1="439.94" y1="2181.27" x2="451.94" y2="2181.27" stroke="#4E3F2E" stroke-width="1.6" stroke-linecap="butt"/>
<line x1="439.94" y1="2240.94" x2="451.94" y2="2240.94" stroke="#4E3F2E" stroke-width="1.6" stroke-linecap="butt"/>
<rect x="442.26" y="2174.1" width="6.6" height="6.6" fill="#E9A55A" />
<rect x="442.26" y="2222.53" width="6.6" height="6.6" fill="#E9A55A" />
<rect x="442.26" y="2228.34" width="6.6" height="6.6" fill="#E9A55A" />
<path d="M471.99,2426.2 L471.99,2216.22 L491.19,2216.22 L491.19,2426.2" fill="#fff" stroke="#22426F" stroke-width="4.8" stroke-linejoin="miter"/>
<line x1="481.59" y1="2195.61" x2="481.59" y2="2229.7" stroke="#22426F" stroke-width="1.6" stroke-linecap="butt"/>
<line x1="475.59" y1="2195.61" x2="487.59" y2="2195.61" stroke="#22426F" stroke-width="1.6" stroke-linecap="butt"/>
<line x1="475.59" y1="2229.7" x2="487.59" y2="2229.7" stroke="#22426F" stroke-width="1.6" stroke-linecap="butt"/>
<polygon points="477.71,2198.76 484.71,2198.76 481.21,2192.46" fill="#9DB4D6"/>
<polygon points="477.71,2222 484.71,2222 481.21,2215.7" fill="#9DB4D6"/>
<polygon points="477.71,2228.98 484.71,2228.98 481.21,2222.68" fill="#9DB4D6"/>
<path d="M507.24,2426.2 L507.24,2208.85 L526.44,2208.85 L526.44,2426.2" fill="#fff" stroke="#B6312F" stroke-width="4.8" stroke-linejoin="miter"/>
<line x1="516.84" y1="2181.27" x2="516.84" y2="2231.25" stroke="#B6312F" stroke-width="1.6" stroke-linecap="butt"/>
<line x1="510.84" y1="2181.27" x2="522.84" y2="2181.27" stroke="#B6312F" stroke-width="1.6" stroke-linecap="butt"/>
<line x1="510.84" y1="2231.25" x2="522.84" y2="2231.25" stroke="#B6312F" stroke-width="1.6" stroke-linecap="butt"/>
<polygon points="504.83,2190.52 511.83,2190.52 508.33,2196.82" fill="#E58A83"/>
<polygon points="521.49,2186.64 528.49,2186.64 524.99,2192.94" fill="#E58A83"/>
<polygon points="512.97,2231.98 519.97,2231.98 516.47,2238.28" fill="#E58A83"/>
<path d="M542.89,2426.2 L542.89,2193.36 L562.09,2193.36 L562.09,2426.2" fill="#fff" stroke="#858279" stroke-width="4.8" stroke-linejoin="miter"/>
<line x1="552.49" y1="2172.36" x2="552.49" y2="2209.17" stroke="#858279" stroke-width="1.6" stroke-linecap="butt"/>
<line x1="546.49" y1="2172.36" x2="558.49" y2="2172.36" stroke="#858279" stroke-width="1.6" stroke-linecap="butt"/>
<line x1="546.49" y1="2209.17" x2="558.49" y2="2209.17" stroke="#858279" stroke-width="1.6" stroke-linecap="butt"/>
<polygon points="552.11,2168.66 555.81,2172.36 552.11,2176.06 548.41,2172.36" fill="#C0C4C6"/>
<polygon points="552.11,2188.03 555.81,2191.73 552.11,2195.43 548.41,2191.73" fill="#C0C4C6"/>
<polygon points="552.11,2204.69 555.81,2208.39 552.11,2212.09 548.41,2208.39" fill="#C0C4C6"/>
<path d="M578.53,2426.2 L578.53,2211.57 L597.73,2211.57 L597.73,2426.2" fill="#fff" stroke="#6E5043" stroke-width="4.8" stroke-linejoin="miter"/>
<line x1="588.13" y1="2193.67" x2="588.13" y2="2224.66" stroke="#6E5043" stroke-width="1.6" stroke-linecap="butt"/>
<line x1="582.13" y1="2193.67" x2="594.13" y2="2193.67" stroke="#6E5043" stroke-width="1.6" stroke-linecap="butt"/>
<line x1="582.13" y1="2224.66" x2="594.13" y2="2224.66" stroke="#6E5043" stroke-width="1.6" stroke-linecap="butt"/>
<circle cx="587.76" cy="2193.67" r="3.4" fill="#F7D0C8" stroke="#6E5043" stroke-width="3"/>
<circle cx="587.76" cy="2212.27" r="3.4" fill="#F7D0C8" stroke="#6E5043" stroke-width="3"/>
<circle cx="587.76" cy="2223.89" r="3.4" fill="#F7D0C8" stroke="#6E5043" stroke-width="3"/>
<rect x="666.3" y="2138.6" width="33.5" height="16.6" fill="#000" />
<rect x="668.5" y="2183.3" width="29.1" height="12.2" fill="#E9A55A" stroke="#4E3F2E" stroke-width="4.4" />
<rect x="668.5" y="2225.2" width="29.1" height="12.2" fill="#9BB4D8" stroke="#22426F" stroke-width="4.4" />
<rect x="668.5" y="2267.7" width="29.1" height="12.2" fill="#E88F89" stroke="#B6312F" stroke-width="4.4" />
<rect x="668.5" y="2310" width="29.1" height="12.2" fill="#C0C4C6" stroke="#858279" stroke-width="4.4" />
<rect x="668.5" y="2352.2" width="29.1" height="12.2" fill="#F6CFC6" stroke="#6E5043" stroke-width="4.4" />
<text x="719" y="2157" font-size="25.7" text-anchor="start" fill="#000" >PBS</text>
<text x="719" y="2199" font-size="25.7" text-anchor="start" fill="#000" >AC (2mM)</text>
<text x="719" y="2241.4" font-size="25.7" text-anchor="start" fill="#000" >AC (5mM)</text>
<text x="719" y="2283.4" font-size="25.7" text-anchor="start" fill="#000" >PR (1mM)</text>
<text x="719" y="2325.9" font-size="25.7" text-anchor="start" fill="#000" >PR (2mM)</text>
<text x="719" y="2367.8" font-size="25.7" text-anchor="start" fill="#000" >PR (5mM)</text>
<text x="988" y="2118" font-size="46" font-weight="bold" text-anchor="start" fill="#000" >k</text>
<text x="1170.3" y="2202.5" font-size="23.4" text-anchor="middle" fill="#000" >PR (mM)</text>
<text x="1466" y="2199.7" font-size="23.4" text-anchor="middle" fill="#000" >AC (mM)</text>
<text x="1121.8" y="2244" font-size="22.5" text-anchor="middle" fill="#000" >0</text>
<text x="1256" y="2244" font-size="22.5" text-anchor="middle" fill="#000" >5</text>
<text x="1397.9" y="2244" font-size="22.5" text-anchor="middle" fill="#000" >0</text>
<text x="1533.2" y="2244" font-size="22.5" text-anchor="middle" fill="#000" >5</text>
<text x="947" y="2281.8" font-size="23.2" text-anchor="start" fill="#000" >15KDa</text>
<text x="947" y="2348.3" font-size="23.2" text-anchor="start" fill="#000" >15KDa</text>
<text x="948.5" y="2411" font-size="23.2" text-anchor="start" fill="#000" >37KDa</text>
<text x="1623.6" y="2284.6" font-size="23.4" text-anchor="start" fill="#000" >H2BK17pr</text>
<text x="1622" y="2344.4" font-size="23.4" text-anchor="start" fill="#000" >H2B</text>
<text x="1622" y="2403.8" font-size="23.4" text-anchor="start" fill="#000" >ACTB</text>
<clipPath id="cp4"><rect x="1030.2" y="2249" width="283.3" height="53.8"/></clipPath>
<rect x="1030.2" y="2249" width="283.3" height="53.8" fill="#e1e1e1" />
<g clip-path="url(#cp4)">
<g filter="url(#b2)">
<ellipse cx="1107" cy="2278.3" rx="70" ry="4.6" fill="#626262" transform="rotate(-2.2 1107 2278.3)"/>
<ellipse cx="1107" cy="2278.3" rx="40" ry="3.4" fill="#585858" transform="rotate(-2.2 1107 2278.3)"/>
<ellipse cx="1262" cy="2268.5" rx="46" ry="6" fill="#a4a4a4" transform="rotate(-2 1262 2268.5)"/>
<ellipse cx="1247" cy="2276.3" rx="66" ry="8.4" fill="#0a0a0a" transform="rotate(-1 1247 2276.3)"/>
<ellipse cx="1247" cy="2276.3" rx="50" ry="7.6" fill="#000" transform="rotate(-1 1247 2276.3)"/>
</g>
</g>
<clipPath id="cp5"><rect x="1320.7" y="2252.7" width="282.2" height="50.9"/></clipPath>
<rect x="1320.7" y="2252.7" width="282.2" height="50.9" fill="#e1e1e1" />
<g clip-path="url(#cp5)">
<g filter="url(#b2)">
<ellipse cx="1400.5" cy="2275.8" rx="66" ry="5.6" fill="#585858"/>
<ellipse cx="1400.5" cy="2275.8" rx="40" ry="4.2" fill="#4c4c4c"/>
<ellipse cx="1538.5" cy="2275.2" rx="60" ry="5" fill="#7e7e7e"/>
<ellipse cx="1538.5" cy="2275.2" rx="34" ry="3.6" fill="#727272"/>
</g>
</g>
<clipPath id="cp6"><rect x="1030.2" y="2309" width="283.3" height="53.8"/></clipPath>
<rect x="1030.2" y="2309" width="283.3" height="53.8" fill="#e1e1e1" />
<g clip-path="url(#cp6)">
<g filter="url(#b3)">
<ellipse cx="1098" cy="2334.4" rx="76" ry="8.2" fill="#505050" transform="rotate(-1.5 1098 2334.4)"/>
<ellipse cx="1098" cy="2334.4" rx="50" ry="6" fill="#3e3e3e" transform="rotate(-1.5 1098 2334.4)"/>
<ellipse cx="1243" cy="2335.2" rx="70" ry="8.2" fill="#5c5c5c"/>
<ellipse cx="1243" cy="2335" rx="46" ry="5.6" fill="#4c4c4c"/>
<ellipse cx="1248" cy="2343" rx="46" ry="4" fill="#a8a8a8"/>
<rect x="1160" y="2331.5" width="30" height="5" fill="#8a8a8a" />
<rect x="1300" y="2331" width="20" height="7" fill="#909090" />
</g>
</g>
<clipPath id="cp7"><rect x="1320.7" y="2310" width="282.2" height="50.6"/></clipPath>
<rect x="1320.7" y="2310" width="282.2" height="50.6" fill="#e1e1e1" />
<g clip-path="url(#cp7)">
<g filter="url(#b3)">
<ellipse cx="1391" cy="2332.8" rx="74" ry="9.6" fill="#2e2e2e" transform="rotate(1 1391 2332.8)"/>
<ellipse cx="1391" cy="2332.8" rx="54" ry="7.6" fill="#202020" transform="rotate(1 1391 2332.8)"/>
<ellipse cx="1535" cy="2332.6" rx="68" ry="9.6" fill="#2c2c2c"/>
<ellipse cx="1535" cy="2332.6" rx="48" ry="7.6" fill="#1e1e1e"/>
<rect x="1452" y="2329.8" width="34" height="5.5" fill="#666" />
<rect x="1594" y="2329.5" width="20" height="6" fill="#777" />
</g>
</g>
<clipPath id="cp8"><rect x="1030.2" y="2370.8" width="283.3" height="53.7"/></clipPath>
<rect x="1030.2" y="2370.8" width="283.3" height="53.7" fill="#e1e1e1" />
<g clip-path="url(#cp8)">
<g filter="url(#b2)">
<path d="M1036.5,2379 C1045,2378 1070,2383 1095,2386 C1130,2389.5 1160,2389.5 1180,2388.5 C1200,2390 1240,2390 1270,2388 L1316,2384 L1316,2400 C1290,2403 1250,2406 1225,2404 C1205,2402.5 1190,2399 1180,2398 C1165,2402 1140,2404 1120,2402 C1085,2398.5 1050,2392 1036.5,2379 Z" fill="#0a0a0a"/>
</g>
</g>
<clipPath id="cp9"><rect x="1320.7" y="2370.8" width="282.2" height="53.7"/></clipPath>
<rect x="1320.7" y="2370.8" width="282.2" height="53.7" fill="#e1e1e1" />
<g clip-path="url(#cp9)">
<g filter="url(#b2)">
<path d="M1331,2398 C1333,2394 1345,2395 1360,2397 C1395,2401 1440,2401 1470,2398.5 C1490,2400 1530,2399 1560,2396 L1606,2391 L1606,2405.5 C1580,2411 1545,2416 1515,2414 C1495,2412.5 1480,2408.5 1473,2407 C1455,2414 1420,2418 1395,2417 C1365,2415 1335,2408 1331,2398 Z" fill="#0a0a0a"/>
</g>
</g>
<line x1="151.3" y1="2118.85" x2="151.3" y2="2428" stroke="#000" stroke-width="3.6"/>
<line x1="137.9" y1="2120.5" x2="151.3" y2="2120.5" stroke="#000" stroke-width="3.3"/>
<line x1="137.9" y1="2222.4" x2="151.3" y2="2222.4" stroke="#000" stroke-width="3.3"/>
<line x1="137.9" y1="2324.3" x2="151.3" y2="2324.3" stroke="#000" stroke-width="3.3"/>
<line x1="137.9" y1="2426.2" x2="151.3" y2="2426.2" stroke="#000" stroke-width="3.3"/>
<line x1="137.9" y1="2426.2" x2="612.2" y2="2426.2" stroke="#000" stroke-width="3.5"/>
<line x1="263.5" y1="2426.2" x2="263.5" y2="2438.7" stroke="#000" stroke-width="3.3"/>
<line x1="499" y1="2426.2" x2="499" y2="2438.7" stroke="#000" stroke-width="3.3"/>
</svg>
</body></html>
